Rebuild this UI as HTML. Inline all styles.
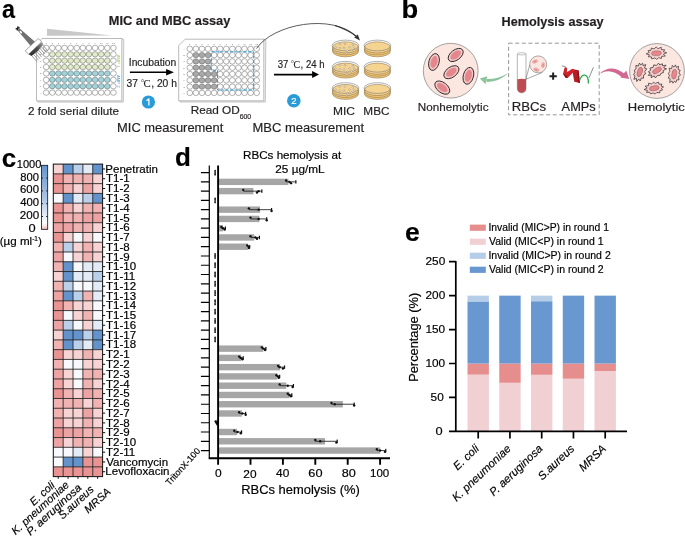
<!DOCTYPE html>
<html><head><meta charset="utf-8"><title>Figure</title>
<style>
html,body{margin:0;padding:0;background:#fff;}
body{width:685px;height:540px;overflow:hidden;}
svg{display:block;font-family:"Liberation Sans",sans-serif;will-change:transform;}
</style></head><body>
<svg width="685" height="540" viewBox="0 0 685 540">
<text x="1.90" y="18.10" font-size="26.5" font-weight="bold" textLength="12.99" lengthAdjust="spacingAndGlyphs"  stroke="#000" stroke-width="0.18">a</text>
<text x="401.52" y="18.40" font-size="26.5" font-weight="bold" textLength="16.69" lengthAdjust="spacingAndGlyphs"  stroke="#000" stroke-width="0.18">b</text>
<text x="1.66" y="167.00" font-size="26.5" font-weight="bold" textLength="14.45" lengthAdjust="spacingAndGlyphs"  stroke="#000" stroke-width="0.18">c</text>
<text x="174.96" y="166.10" font-size="26.5" font-weight="bold" textLength="15.85" lengthAdjust="spacingAndGlyphs"  stroke="#000" stroke-width="0.18">d</text>
<text x="405.03" y="240.90" font-size="26.5" font-weight="bold"  stroke="#000" stroke-width="0.18">e</text>
<text x="108.76" y="25.40" font-size="12.8" font-weight="bold" fill="#231f20"  stroke="#231f20" stroke-width="0.18">MIC and MBC assay</text>
<polygon points="47,28.8 47,35.8 112,35.6" fill="#c8c8c8"/>
<path d="M37.5,100.9 L38.0,102.10000000000001 L123.3,102.10000000000001 L123.8,39.5 L121.8,38.5" fill="#f6f6f6" stroke="#8a8a8a" stroke-width="0.5"/>
<polygon points="42.0,38.5 121.8,38.5 121.8,100.9 36.5,100.9 36.5,44.0" fill="#fff" stroke="#8c8c8c" stroke-width="0.6"/>
<ellipse cx="46.20" cy="47.90" rx="2.85" ry="2.7" fill="#fff"/><ellipse cx="52.31" cy="47.90" rx="2.85" ry="2.7" fill="#fff"/><ellipse cx="58.42" cy="47.90" rx="2.85" ry="2.7" fill="#fff"/><ellipse cx="64.53" cy="47.90" rx="2.85" ry="2.7" fill="#fff"/><ellipse cx="70.64" cy="47.90" rx="2.85" ry="2.7" fill="#fff"/><ellipse cx="76.75" cy="47.90" rx="2.85" ry="2.7" fill="#fff"/><ellipse cx="82.86" cy="47.90" rx="2.85" ry="2.7" fill="#fff"/><ellipse cx="88.97" cy="47.90" rx="2.85" ry="2.7" fill="#fff"/><ellipse cx="95.08" cy="47.90" rx="2.85" ry="2.7" fill="#fff"/><ellipse cx="101.19" cy="47.90" rx="2.85" ry="2.7" fill="#fff"/><ellipse cx="107.30" cy="47.90" rx="2.85" ry="2.7" fill="#fff"/><ellipse cx="113.41" cy="47.90" rx="2.85" ry="2.7" fill="#fff"/><ellipse cx="46.20" cy="54.29" rx="2.85" ry="2.7" fill="#fff"/><ellipse cx="52.31" cy="54.29" rx="2.85" ry="2.7" fill="#e1ebc9"/><ellipse cx="58.42" cy="54.29" rx="2.85" ry="2.7" fill="#e1ebc9"/><ellipse cx="64.53" cy="54.29" rx="2.85" ry="2.7" fill="#e1ebc9"/><ellipse cx="70.64" cy="54.29" rx="2.85" ry="2.7" fill="#e1ebc9"/><ellipse cx="76.75" cy="54.29" rx="2.85" ry="2.7" fill="#e1ebc9"/><ellipse cx="82.86" cy="54.29" rx="2.85" ry="2.7" fill="#e1ebc9"/><ellipse cx="88.97" cy="54.29" rx="2.85" ry="2.7" fill="#e1ebc9"/><ellipse cx="95.08" cy="54.29" rx="2.85" ry="2.7" fill="#e1ebc9"/><ellipse cx="101.19" cy="54.29" rx="2.85" ry="2.7" fill="#e1ebc9"/><ellipse cx="107.30" cy="54.29" rx="2.85" ry="2.7" fill="#e1ebc9"/><ellipse cx="113.41" cy="54.29" rx="2.85" ry="2.7" fill="#fff"/><ellipse cx="46.20" cy="60.68" rx="2.85" ry="2.7" fill="#fff"/><ellipse cx="52.31" cy="60.68" rx="2.85" ry="2.7" fill="#e1ebc9"/><ellipse cx="58.42" cy="60.68" rx="2.85" ry="2.7" fill="#e1ebc9"/><ellipse cx="64.53" cy="60.68" rx="2.85" ry="2.7" fill="#e1ebc9"/><ellipse cx="70.64" cy="60.68" rx="2.85" ry="2.7" fill="#e1ebc9"/><ellipse cx="76.75" cy="60.68" rx="2.85" ry="2.7" fill="#e1ebc9"/><ellipse cx="82.86" cy="60.68" rx="2.85" ry="2.7" fill="#e1ebc9"/><ellipse cx="88.97" cy="60.68" rx="2.85" ry="2.7" fill="#e1ebc9"/><ellipse cx="95.08" cy="60.68" rx="2.85" ry="2.7" fill="#e1ebc9"/><ellipse cx="101.19" cy="60.68" rx="2.85" ry="2.7" fill="#e1ebc9"/><ellipse cx="107.30" cy="60.68" rx="2.85" ry="2.7" fill="#e1ebc9"/><ellipse cx="113.41" cy="60.68" rx="2.85" ry="2.7" fill="#fff"/><ellipse cx="46.20" cy="67.07" rx="2.85" ry="2.7" fill="#fff"/><ellipse cx="52.31" cy="67.07" rx="2.85" ry="2.7" fill="#e1ebc9"/><ellipse cx="58.42" cy="67.07" rx="2.85" ry="2.7" fill="#e1ebc9"/><ellipse cx="64.53" cy="67.07" rx="2.85" ry="2.7" fill="#e1ebc9"/><ellipse cx="70.64" cy="67.07" rx="2.85" ry="2.7" fill="#e1ebc9"/><ellipse cx="76.75" cy="67.07" rx="2.85" ry="2.7" fill="#e1ebc9"/><ellipse cx="82.86" cy="67.07" rx="2.85" ry="2.7" fill="#e1ebc9"/><ellipse cx="88.97" cy="67.07" rx="2.85" ry="2.7" fill="#e1ebc9"/><ellipse cx="95.08" cy="67.07" rx="2.85" ry="2.7" fill="#e1ebc9"/><ellipse cx="101.19" cy="67.07" rx="2.85" ry="2.7" fill="#e1ebc9"/><ellipse cx="107.30" cy="67.07" rx="2.85" ry="2.7" fill="#e1ebc9"/><ellipse cx="113.41" cy="67.07" rx="2.85" ry="2.7" fill="#fff"/><ellipse cx="46.20" cy="73.46" rx="2.85" ry="2.7" fill="#fff"/><ellipse cx="52.31" cy="73.46" rx="2.85" ry="2.7" fill="#a3d3da"/><ellipse cx="58.42" cy="73.46" rx="2.85" ry="2.7" fill="#a3d3da"/><ellipse cx="64.53" cy="73.46" rx="2.85" ry="2.7" fill="#a3d3da"/><ellipse cx="70.64" cy="73.46" rx="2.85" ry="2.7" fill="#a3d3da"/><ellipse cx="76.75" cy="73.46" rx="2.85" ry="2.7" fill="#a3d3da"/><ellipse cx="82.86" cy="73.46" rx="2.85" ry="2.7" fill="#a3d3da"/><ellipse cx="88.97" cy="73.46" rx="2.85" ry="2.7" fill="#a3d3da"/><ellipse cx="95.08" cy="73.46" rx="2.85" ry="2.7" fill="#a3d3da"/><ellipse cx="101.19" cy="73.46" rx="2.85" ry="2.7" fill="#a3d3da"/><ellipse cx="107.30" cy="73.46" rx="2.85" ry="2.7" fill="#a3d3da"/><ellipse cx="113.41" cy="73.46" rx="2.85" ry="2.7" fill="#fff"/><ellipse cx="46.20" cy="79.85" rx="2.85" ry="2.7" fill="#fff"/><ellipse cx="52.31" cy="79.85" rx="2.85" ry="2.7" fill="#a3d3da"/><ellipse cx="58.42" cy="79.85" rx="2.85" ry="2.7" fill="#a3d3da"/><ellipse cx="64.53" cy="79.85" rx="2.85" ry="2.7" fill="#a3d3da"/><ellipse cx="70.64" cy="79.85" rx="2.85" ry="2.7" fill="#a3d3da"/><ellipse cx="76.75" cy="79.85" rx="2.85" ry="2.7" fill="#a3d3da"/><ellipse cx="82.86" cy="79.85" rx="2.85" ry="2.7" fill="#a3d3da"/><ellipse cx="88.97" cy="79.85" rx="2.85" ry="2.7" fill="#a3d3da"/><ellipse cx="95.08" cy="79.85" rx="2.85" ry="2.7" fill="#a3d3da"/><ellipse cx="101.19" cy="79.85" rx="2.85" ry="2.7" fill="#a3d3da"/><ellipse cx="107.30" cy="79.85" rx="2.85" ry="2.7" fill="#a3d3da"/><ellipse cx="113.41" cy="79.85" rx="2.85" ry="2.7" fill="#fff"/><ellipse cx="46.20" cy="86.24" rx="2.85" ry="2.7" fill="#fff"/><ellipse cx="52.31" cy="86.24" rx="2.85" ry="2.7" fill="#a3d3da"/><ellipse cx="58.42" cy="86.24" rx="2.85" ry="2.7" fill="#a3d3da"/><ellipse cx="64.53" cy="86.24" rx="2.85" ry="2.7" fill="#a3d3da"/><ellipse cx="70.64" cy="86.24" rx="2.85" ry="2.7" fill="#a3d3da"/><ellipse cx="76.75" cy="86.24" rx="2.85" ry="2.7" fill="#a3d3da"/><ellipse cx="82.86" cy="86.24" rx="2.85" ry="2.7" fill="#a3d3da"/><ellipse cx="88.97" cy="86.24" rx="2.85" ry="2.7" fill="#a3d3da"/><ellipse cx="95.08" cy="86.24" rx="2.85" ry="2.7" fill="#a3d3da"/><ellipse cx="101.19" cy="86.24" rx="2.85" ry="2.7" fill="#a3d3da"/><ellipse cx="107.30" cy="86.24" rx="2.85" ry="2.7" fill="#a3d3da"/><ellipse cx="113.41" cy="86.24" rx="2.85" ry="2.7" fill="#fff"/><ellipse cx="46.20" cy="92.63" rx="2.85" ry="2.7" fill="#fff"/><ellipse cx="52.31" cy="92.63" rx="2.85" ry="2.7" fill="#fff"/><ellipse cx="58.42" cy="92.63" rx="2.85" ry="2.7" fill="#fff"/><ellipse cx="64.53" cy="92.63" rx="2.85" ry="2.7" fill="#fff"/><ellipse cx="70.64" cy="92.63" rx="2.85" ry="2.7" fill="#fff"/><ellipse cx="76.75" cy="92.63" rx="2.85" ry="2.7" fill="#fff"/><ellipse cx="82.86" cy="92.63" rx="2.85" ry="2.7" fill="#fff"/><ellipse cx="88.97" cy="92.63" rx="2.85" ry="2.7" fill="#fff"/><ellipse cx="95.08" cy="92.63" rx="2.85" ry="2.7" fill="#fff"/><ellipse cx="101.19" cy="92.63" rx="2.85" ry="2.7" fill="#fff"/><ellipse cx="107.30" cy="92.63" rx="2.85" ry="2.7" fill="#fff"/><ellipse cx="113.41" cy="92.63" rx="2.85" ry="2.7" fill="#fff"/>
<g fill="none" stroke="#555" stroke-width="0.45"><ellipse cx="46.20" cy="47.90" rx="2.85" ry="2.7"/><ellipse cx="52.31" cy="47.90" rx="2.85" ry="2.7"/><ellipse cx="58.42" cy="47.90" rx="2.85" ry="2.7"/><ellipse cx="64.53" cy="47.90" rx="2.85" ry="2.7"/><ellipse cx="70.64" cy="47.90" rx="2.85" ry="2.7"/><ellipse cx="76.75" cy="47.90" rx="2.85" ry="2.7"/><ellipse cx="82.86" cy="47.90" rx="2.85" ry="2.7"/><ellipse cx="88.97" cy="47.90" rx="2.85" ry="2.7"/><ellipse cx="95.08" cy="47.90" rx="2.85" ry="2.7"/><ellipse cx="101.19" cy="47.90" rx="2.85" ry="2.7"/><ellipse cx="107.30" cy="47.90" rx="2.85" ry="2.7"/><ellipse cx="113.41" cy="47.90" rx="2.85" ry="2.7"/><ellipse cx="46.20" cy="54.29" rx="2.85" ry="2.7"/><ellipse cx="52.31" cy="54.29" rx="2.85" ry="2.7"/><ellipse cx="58.42" cy="54.29" rx="2.85" ry="2.7"/><ellipse cx="64.53" cy="54.29" rx="2.85" ry="2.7"/><ellipse cx="70.64" cy="54.29" rx="2.85" ry="2.7"/><ellipse cx="76.75" cy="54.29" rx="2.85" ry="2.7"/><ellipse cx="82.86" cy="54.29" rx="2.85" ry="2.7"/><ellipse cx="88.97" cy="54.29" rx="2.85" ry="2.7"/><ellipse cx="95.08" cy="54.29" rx="2.85" ry="2.7"/><ellipse cx="101.19" cy="54.29" rx="2.85" ry="2.7"/><ellipse cx="107.30" cy="54.29" rx="2.85" ry="2.7"/><ellipse cx="113.41" cy="54.29" rx="2.85" ry="2.7"/><ellipse cx="46.20" cy="60.68" rx="2.85" ry="2.7"/><ellipse cx="52.31" cy="60.68" rx="2.85" ry="2.7"/><ellipse cx="58.42" cy="60.68" rx="2.85" ry="2.7"/><ellipse cx="64.53" cy="60.68" rx="2.85" ry="2.7"/><ellipse cx="70.64" cy="60.68" rx="2.85" ry="2.7"/><ellipse cx="76.75" cy="60.68" rx="2.85" ry="2.7"/><ellipse cx="82.86" cy="60.68" rx="2.85" ry="2.7"/><ellipse cx="88.97" cy="60.68" rx="2.85" ry="2.7"/><ellipse cx="95.08" cy="60.68" rx="2.85" ry="2.7"/><ellipse cx="101.19" cy="60.68" rx="2.85" ry="2.7"/><ellipse cx="107.30" cy="60.68" rx="2.85" ry="2.7"/><ellipse cx="113.41" cy="60.68" rx="2.85" ry="2.7"/><ellipse cx="46.20" cy="67.07" rx="2.85" ry="2.7"/><ellipse cx="52.31" cy="67.07" rx="2.85" ry="2.7"/><ellipse cx="58.42" cy="67.07" rx="2.85" ry="2.7"/><ellipse cx="64.53" cy="67.07" rx="2.85" ry="2.7"/><ellipse cx="70.64" cy="67.07" rx="2.85" ry="2.7"/><ellipse cx="76.75" cy="67.07" rx="2.85" ry="2.7"/><ellipse cx="82.86" cy="67.07" rx="2.85" ry="2.7"/><ellipse cx="88.97" cy="67.07" rx="2.85" ry="2.7"/><ellipse cx="95.08" cy="67.07" rx="2.85" ry="2.7"/><ellipse cx="101.19" cy="67.07" rx="2.85" ry="2.7"/><ellipse cx="107.30" cy="67.07" rx="2.85" ry="2.7"/><ellipse cx="113.41" cy="67.07" rx="2.85" ry="2.7"/><ellipse cx="46.20" cy="73.46" rx="2.85" ry="2.7"/><ellipse cx="52.31" cy="73.46" rx="2.85" ry="2.7"/><ellipse cx="58.42" cy="73.46" rx="2.85" ry="2.7"/><ellipse cx="64.53" cy="73.46" rx="2.85" ry="2.7"/><ellipse cx="70.64" cy="73.46" rx="2.85" ry="2.7"/><ellipse cx="76.75" cy="73.46" rx="2.85" ry="2.7"/><ellipse cx="82.86" cy="73.46" rx="2.85" ry="2.7"/><ellipse cx="88.97" cy="73.46" rx="2.85" ry="2.7"/><ellipse cx="95.08" cy="73.46" rx="2.85" ry="2.7"/><ellipse cx="101.19" cy="73.46" rx="2.85" ry="2.7"/><ellipse cx="107.30" cy="73.46" rx="2.85" ry="2.7"/><ellipse cx="113.41" cy="73.46" rx="2.85" ry="2.7"/><ellipse cx="46.20" cy="79.85" rx="2.85" ry="2.7"/><ellipse cx="52.31" cy="79.85" rx="2.85" ry="2.7"/><ellipse cx="58.42" cy="79.85" rx="2.85" ry="2.7"/><ellipse cx="64.53" cy="79.85" rx="2.85" ry="2.7"/><ellipse cx="70.64" cy="79.85" rx="2.85" ry="2.7"/><ellipse cx="76.75" cy="79.85" rx="2.85" ry="2.7"/><ellipse cx="82.86" cy="79.85" rx="2.85" ry="2.7"/><ellipse cx="88.97" cy="79.85" rx="2.85" ry="2.7"/><ellipse cx="95.08" cy="79.85" rx="2.85" ry="2.7"/><ellipse cx="101.19" cy="79.85" rx="2.85" ry="2.7"/><ellipse cx="107.30" cy="79.85" rx="2.85" ry="2.7"/><ellipse cx="113.41" cy="79.85" rx="2.85" ry="2.7"/><ellipse cx="46.20" cy="86.24" rx="2.85" ry="2.7"/><ellipse cx="52.31" cy="86.24" rx="2.85" ry="2.7"/><ellipse cx="58.42" cy="86.24" rx="2.85" ry="2.7"/><ellipse cx="64.53" cy="86.24" rx="2.85" ry="2.7"/><ellipse cx="70.64" cy="86.24" rx="2.85" ry="2.7"/><ellipse cx="76.75" cy="86.24" rx="2.85" ry="2.7"/><ellipse cx="82.86" cy="86.24" rx="2.85" ry="2.7"/><ellipse cx="88.97" cy="86.24" rx="2.85" ry="2.7"/><ellipse cx="95.08" cy="86.24" rx="2.85" ry="2.7"/><ellipse cx="101.19" cy="86.24" rx="2.85" ry="2.7"/><ellipse cx="107.30" cy="86.24" rx="2.85" ry="2.7"/><ellipse cx="113.41" cy="86.24" rx="2.85" ry="2.7"/><ellipse cx="46.20" cy="92.63" rx="2.85" ry="2.7"/><ellipse cx="52.31" cy="92.63" rx="2.85" ry="2.7"/><ellipse cx="58.42" cy="92.63" rx="2.85" ry="2.7"/><ellipse cx="64.53" cy="92.63" rx="2.85" ry="2.7"/><ellipse cx="70.64" cy="92.63" rx="2.85" ry="2.7"/><ellipse cx="76.75" cy="92.63" rx="2.85" ry="2.7"/><ellipse cx="82.86" cy="92.63" rx="2.85" ry="2.7"/><ellipse cx="88.97" cy="92.63" rx="2.85" ry="2.7"/><ellipse cx="95.08" cy="92.63" rx="2.85" ry="2.7"/><ellipse cx="101.19" cy="92.63" rx="2.85" ry="2.7"/><ellipse cx="107.30" cy="92.63" rx="2.85" ry="2.7"/><ellipse cx="113.41" cy="92.63" rx="2.85" ry="2.7"/></g>
<g font-size="2.5" fill="#808080" text-anchor="middle"><text x="46.20" y="43.60" stroke="none">1</text><text x="52.31" y="43.60" stroke="none">2</text><text x="58.42" y="43.60" stroke="none">3</text><text x="64.53" y="43.60" stroke="none">4</text><text x="70.64" y="43.60" stroke="none">5</text><text x="76.75" y="43.60" stroke="none">6</text><text x="82.86" y="43.60" stroke="none">7</text><text x="88.97" y="43.60" stroke="none">8</text><text x="95.08" y="43.60" stroke="none">9</text><text x="101.19" y="43.60" stroke="none">10</text><text x="107.30" y="43.60" stroke="none">11</text><text x="113.41" y="43.60" stroke="none">12</text><text x="40.60" y="48.80" stroke="none">A</text><text x="40.60" y="55.19" stroke="none">B</text><text x="40.60" y="61.58" stroke="none">C</text><text x="40.60" y="67.97" stroke="none">D</text><text x="40.60" y="74.36" stroke="none">E</text><text x="40.60" y="80.75" stroke="none">F</text><text x="40.60" y="87.14" stroke="none">G</text><text x="40.60" y="93.53" stroke="none">H</text></g>
<text x="117.40" y="54.70" font-size="4.3" fill="#a2c95e" transform="rotate(90 117.4 54.7)" >AMP 1</text>
<text x="117.40" y="74.90" font-size="4.3" fill="#3aa7e0" transform="rotate(90 117.4 74.9)" >AMP 2</text>
<defs><linearGradient id="pg" x1="0" y1="0" x2="1" y2="0"><stop offset="0" stop-color="#2a2a2a"/><stop offset="0.55" stop-color="#4a4a4a"/><stop offset="1" stop-color="#9a9a9a"/></linearGradient></defs>
<g transform="translate(17.6,28.3) rotate(-45)"><path d="M-1.9,-0.9 L1.9,0.9 M-1.7,1.1 L1.7,-1.1" stroke="#111" stroke-width="1.3"/><path d="M-1.4,1.2 L1.4,1.2 L2.8,21.8 L-3.2,21.8 Z" fill="#707070"/><ellipse cx="-0.4" cy="5.0" rx="0.9" ry="1.5" fill="#fff"/><path d="M-9.30,29.5 L-10.00,37.4" stroke="#8c8c8c" stroke-width="0.8"/><path d="M-7.10,29.5 L-7.80,37.4" stroke="#8c8c8c" stroke-width="0.8"/><path d="M-4.90,29.5 L-5.60,37.4" stroke="#8c8c8c" stroke-width="0.8"/><path d="M-2.70,29.5 L-3.40,37.4" stroke="#8c8c8c" stroke-width="0.8"/><path d="M-0.50,29.5 L-1.20,37.4" stroke="#8c8c8c" stroke-width="0.8"/><path d="M1.70,29.5 L1.00,37.4" stroke="#8c8c8c" stroke-width="0.8"/><path d="M3.90,29.5 L3.20,37.4" stroke="#8c8c8c" stroke-width="0.8"/><path d="M6.10,29.5 L5.40,37.4" stroke="#8c8c8c" stroke-width="0.8"/><path d="M-10.6,21.3 L7.3,21.8 L7.5,26.6 L-10.6,26.1 Z" fill="#fff" stroke="#555" stroke-width="0.5" stroke-linejoin="round"/><path d="M-10.4,26.2 L7.4,26.6 L7.0,29.6 Q-1.5,31.2 -9.8,29.4 Z" fill="url(#pg)"/></g>
<path d="M129.9,72.3 H167" stroke="#000" stroke-width="1.6"/>
<path d="M173.9,72.3 L166.1,69 L166.1,75.6 Z" fill="#000"/>
<text x="128.77" y="66.40" font-size="10.3" fill="#231f20"  stroke="#231f20" stroke-width="0.18">Incubation</text>
<g transform="translate(126.49,86.5) scale(1.0120,1)" fill="#231f20" font-size="10.2"><text x="0" y="0" stroke="#231f20" stroke-width="0.18">37 </text><text x="14.48" y="-4.6" font-size="4.5" stroke="none">o</text><text x="16.78" y="0" font-family="Liberation Serif" font-size="10.6" stroke="#231f20" stroke-width="0.1">C</text><text x="24.38" y="0" stroke="#231f20" stroke-width="0.18">, 20 h</text></g>
<path d="M179.7,100.8 L180.2,102.0 L265.3,102.0 L265.8,40.2 L263.8,39.2" fill="#f6f6f6" stroke="#8a8a8a" stroke-width="0.5"/>
<polygon points="185.2,39.2 263.8,39.2 263.8,100.8 178.7,100.8 178.7,45.7" fill="#fff" stroke="#8c8c8c" stroke-width="0.6"/>
<ellipse cx="189.80" cy="48.80" rx="2.85" ry="2.7" fill="#fff"/><ellipse cx="195.88" cy="48.80" rx="2.85" ry="2.7" fill="#fff"/><ellipse cx="201.96" cy="48.80" rx="2.85" ry="2.7" fill="#fff"/><ellipse cx="208.04" cy="48.80" rx="2.85" ry="2.7" fill="#fff"/><ellipse cx="214.12" cy="48.80" rx="2.85" ry="2.7" fill="#fff"/><ellipse cx="220.20" cy="48.80" rx="2.85" ry="2.7" fill="#fff"/><ellipse cx="226.28" cy="48.80" rx="2.85" ry="2.7" fill="#fff"/><ellipse cx="232.36" cy="48.80" rx="2.85" ry="2.7" fill="#fff"/><ellipse cx="238.44" cy="48.80" rx="2.85" ry="2.7" fill="#fff"/><ellipse cx="244.52" cy="48.80" rx="2.85" ry="2.7" fill="#fff"/><ellipse cx="250.60" cy="48.80" rx="2.85" ry="2.7" fill="#fff"/><ellipse cx="256.68" cy="48.80" rx="2.85" ry="2.7" fill="#fff"/><ellipse cx="189.80" cy="55.10" rx="2.85" ry="2.7" fill="#fff"/><ellipse cx="195.88" cy="55.10" rx="2.85" ry="2.7" fill="#a9a9a9"/><ellipse cx="201.96" cy="55.10" rx="2.85" ry="2.7" fill="#a9a9a9"/><ellipse cx="208.04" cy="55.10" rx="2.85" ry="2.7" fill="#a9a9a9"/><ellipse cx="214.12" cy="55.10" rx="2.85" ry="2.7" fill="#fff"/><ellipse cx="220.20" cy="55.10" rx="2.85" ry="2.7" fill="#fff"/><ellipse cx="226.28" cy="55.10" rx="2.85" ry="2.7" fill="#fff"/><ellipse cx="232.36" cy="55.10" rx="2.85" ry="2.7" fill="#fff"/><ellipse cx="238.44" cy="55.10" rx="2.85" ry="2.7" fill="#fff"/><ellipse cx="244.52" cy="55.10" rx="2.85" ry="2.7" fill="#fff"/><ellipse cx="250.60" cy="55.10" rx="2.85" ry="2.7" fill="#fff"/><ellipse cx="256.68" cy="55.10" rx="2.85" ry="2.7" fill="#fff"/><ellipse cx="189.80" cy="61.40" rx="2.85" ry="2.7" fill="#fff"/><ellipse cx="195.88" cy="61.40" rx="2.85" ry="2.7" fill="#a9a9a9"/><ellipse cx="201.96" cy="61.40" rx="2.85" ry="2.7" fill="#a9a9a9"/><ellipse cx="208.04" cy="61.40" rx="2.85" ry="2.7" fill="#a9a9a9"/><ellipse cx="214.12" cy="61.40" rx="2.85" ry="2.7" fill="#fff"/><ellipse cx="220.20" cy="61.40" rx="2.85" ry="2.7" fill="#fff"/><ellipse cx="226.28" cy="61.40" rx="2.85" ry="2.7" fill="#fff"/><ellipse cx="232.36" cy="61.40" rx="2.85" ry="2.7" fill="#fff"/><ellipse cx="238.44" cy="61.40" rx="2.85" ry="2.7" fill="#fff"/><ellipse cx="244.52" cy="61.40" rx="2.85" ry="2.7" fill="#fff"/><ellipse cx="250.60" cy="61.40" rx="2.85" ry="2.7" fill="#fff"/><ellipse cx="256.68" cy="61.40" rx="2.85" ry="2.7" fill="#fff"/><ellipse cx="189.80" cy="67.70" rx="2.85" ry="2.7" fill="#fff"/><ellipse cx="195.88" cy="67.70" rx="2.85" ry="2.7" fill="#a9a9a9"/><ellipse cx="201.96" cy="67.70" rx="2.85" ry="2.7" fill="#a9a9a9"/><ellipse cx="208.04" cy="67.70" rx="2.85" ry="2.7" fill="#a9a9a9"/><ellipse cx="214.12" cy="67.70" rx="2.85" ry="2.7" fill="#fff"/><ellipse cx="220.20" cy="67.70" rx="2.85" ry="2.7" fill="#fff"/><ellipse cx="226.28" cy="67.70" rx="2.85" ry="2.7" fill="#fff"/><ellipse cx="232.36" cy="67.70" rx="2.85" ry="2.7" fill="#fff"/><ellipse cx="238.44" cy="67.70" rx="2.85" ry="2.7" fill="#fff"/><ellipse cx="244.52" cy="67.70" rx="2.85" ry="2.7" fill="#fff"/><ellipse cx="250.60" cy="67.70" rx="2.85" ry="2.7" fill="#fff"/><ellipse cx="256.68" cy="67.70" rx="2.85" ry="2.7" fill="#fff"/><ellipse cx="189.80" cy="74.00" rx="2.85" ry="2.7" fill="#fff"/><ellipse cx="195.88" cy="74.00" rx="2.85" ry="2.7" fill="#a9a9a9"/><ellipse cx="201.96" cy="74.00" rx="2.85" ry="2.7" fill="#a9a9a9"/><ellipse cx="208.04" cy="74.00" rx="2.85" ry="2.7" fill="#a9a9a9"/><ellipse cx="214.12" cy="74.00" rx="2.85" ry="2.7" fill="#a9a9a9"/><ellipse cx="220.20" cy="74.00" rx="2.85" ry="2.7" fill="#fff"/><ellipse cx="226.28" cy="74.00" rx="2.85" ry="2.7" fill="#fff"/><ellipse cx="232.36" cy="74.00" rx="2.85" ry="2.7" fill="#fff"/><ellipse cx="238.44" cy="74.00" rx="2.85" ry="2.7" fill="#fff"/><ellipse cx="244.52" cy="74.00" rx="2.85" ry="2.7" fill="#fff"/><ellipse cx="250.60" cy="74.00" rx="2.85" ry="2.7" fill="#fff"/><ellipse cx="256.68" cy="74.00" rx="2.85" ry="2.7" fill="#fff"/><ellipse cx="189.80" cy="80.30" rx="2.85" ry="2.7" fill="#fff"/><ellipse cx="195.88" cy="80.30" rx="2.85" ry="2.7" fill="#a9a9a9"/><ellipse cx="201.96" cy="80.30" rx="2.85" ry="2.7" fill="#a9a9a9"/><ellipse cx="208.04" cy="80.30" rx="2.85" ry="2.7" fill="#a9a9a9"/><ellipse cx="214.12" cy="80.30" rx="2.85" ry="2.7" fill="#a9a9a9"/><ellipse cx="220.20" cy="80.30" rx="2.85" ry="2.7" fill="#fff"/><ellipse cx="226.28" cy="80.30" rx="2.85" ry="2.7" fill="#fff"/><ellipse cx="232.36" cy="80.30" rx="2.85" ry="2.7" fill="#fff"/><ellipse cx="238.44" cy="80.30" rx="2.85" ry="2.7" fill="#fff"/><ellipse cx="244.52" cy="80.30" rx="2.85" ry="2.7" fill="#fff"/><ellipse cx="250.60" cy="80.30" rx="2.85" ry="2.7" fill="#fff"/><ellipse cx="256.68" cy="80.30" rx="2.85" ry="2.7" fill="#fff"/><ellipse cx="189.80" cy="86.60" rx="2.85" ry="2.7" fill="#fff"/><ellipse cx="195.88" cy="86.60" rx="2.85" ry="2.7" fill="#a9a9a9"/><ellipse cx="201.96" cy="86.60" rx="2.85" ry="2.7" fill="#a9a9a9"/><ellipse cx="208.04" cy="86.60" rx="2.85" ry="2.7" fill="#a9a9a9"/><ellipse cx="214.12" cy="86.60" rx="2.85" ry="2.7" fill="#a9a9a9"/><ellipse cx="220.20" cy="86.60" rx="2.85" ry="2.7" fill="#fff"/><ellipse cx="226.28" cy="86.60" rx="2.85" ry="2.7" fill="#fff"/><ellipse cx="232.36" cy="86.60" rx="2.85" ry="2.7" fill="#fff"/><ellipse cx="238.44" cy="86.60" rx="2.85" ry="2.7" fill="#fff"/><ellipse cx="244.52" cy="86.60" rx="2.85" ry="2.7" fill="#fff"/><ellipse cx="250.60" cy="86.60" rx="2.85" ry="2.7" fill="#fff"/><ellipse cx="256.68" cy="86.60" rx="2.85" ry="2.7" fill="#fff"/><ellipse cx="189.80" cy="92.90" rx="2.85" ry="2.7" fill="#fff"/><ellipse cx="195.88" cy="92.90" rx="2.85" ry="2.7" fill="#fff"/><ellipse cx="201.96" cy="92.90" rx="2.85" ry="2.7" fill="#fff"/><ellipse cx="208.04" cy="92.90" rx="2.85" ry="2.7" fill="#fff"/><ellipse cx="214.12" cy="92.90" rx="2.85" ry="2.7" fill="#fff"/><ellipse cx="220.20" cy="92.90" rx="2.85" ry="2.7" fill="#fff"/><ellipse cx="226.28" cy="92.90" rx="2.85" ry="2.7" fill="#fff"/><ellipse cx="232.36" cy="92.90" rx="2.85" ry="2.7" fill="#fff"/><ellipse cx="238.44" cy="92.90" rx="2.85" ry="2.7" fill="#fff"/><ellipse cx="244.52" cy="92.90" rx="2.85" ry="2.7" fill="#fff"/><ellipse cx="250.60" cy="92.90" rx="2.85" ry="2.7" fill="#fff"/><ellipse cx="256.68" cy="92.90" rx="2.85" ry="2.7" fill="#fff"/>
<g fill="none" stroke="#555" stroke-width="0.45"><ellipse cx="189.80" cy="48.80" rx="2.85" ry="2.7"/><ellipse cx="195.88" cy="48.80" rx="2.85" ry="2.7"/><ellipse cx="201.96" cy="48.80" rx="2.85" ry="2.7"/><ellipse cx="208.04" cy="48.80" rx="2.85" ry="2.7"/><ellipse cx="214.12" cy="48.80" rx="2.85" ry="2.7"/><ellipse cx="220.20" cy="48.80" rx="2.85" ry="2.7"/><ellipse cx="226.28" cy="48.80" rx="2.85" ry="2.7"/><ellipse cx="232.36" cy="48.80" rx="2.85" ry="2.7"/><ellipse cx="238.44" cy="48.80" rx="2.85" ry="2.7"/><ellipse cx="244.52" cy="48.80" rx="2.85" ry="2.7"/><ellipse cx="250.60" cy="48.80" rx="2.85" ry="2.7"/><ellipse cx="256.68" cy="48.80" rx="2.85" ry="2.7"/><ellipse cx="189.80" cy="55.10" rx="2.85" ry="2.7"/><ellipse cx="195.88" cy="55.10" rx="2.85" ry="2.7"/><ellipse cx="201.96" cy="55.10" rx="2.85" ry="2.7"/><ellipse cx="208.04" cy="55.10" rx="2.85" ry="2.7"/><ellipse cx="214.12" cy="55.10" rx="2.85" ry="2.7"/><ellipse cx="220.20" cy="55.10" rx="2.85" ry="2.7"/><ellipse cx="226.28" cy="55.10" rx="2.85" ry="2.7"/><ellipse cx="232.36" cy="55.10" rx="2.85" ry="2.7"/><ellipse cx="238.44" cy="55.10" rx="2.85" ry="2.7"/><ellipse cx="244.52" cy="55.10" rx="2.85" ry="2.7"/><ellipse cx="250.60" cy="55.10" rx="2.85" ry="2.7"/><ellipse cx="256.68" cy="55.10" rx="2.85" ry="2.7"/><ellipse cx="189.80" cy="61.40" rx="2.85" ry="2.7"/><ellipse cx="195.88" cy="61.40" rx="2.85" ry="2.7"/><ellipse cx="201.96" cy="61.40" rx="2.85" ry="2.7"/><ellipse cx="208.04" cy="61.40" rx="2.85" ry="2.7"/><ellipse cx="214.12" cy="61.40" rx="2.85" ry="2.7"/><ellipse cx="220.20" cy="61.40" rx="2.85" ry="2.7"/><ellipse cx="226.28" cy="61.40" rx="2.85" ry="2.7"/><ellipse cx="232.36" cy="61.40" rx="2.85" ry="2.7"/><ellipse cx="238.44" cy="61.40" rx="2.85" ry="2.7"/><ellipse cx="244.52" cy="61.40" rx="2.85" ry="2.7"/><ellipse cx="250.60" cy="61.40" rx="2.85" ry="2.7"/><ellipse cx="256.68" cy="61.40" rx="2.85" ry="2.7"/><ellipse cx="189.80" cy="67.70" rx="2.85" ry="2.7"/><ellipse cx="195.88" cy="67.70" rx="2.85" ry="2.7"/><ellipse cx="201.96" cy="67.70" rx="2.85" ry="2.7"/><ellipse cx="208.04" cy="67.70" rx="2.85" ry="2.7"/><ellipse cx="214.12" cy="67.70" rx="2.85" ry="2.7"/><ellipse cx="220.20" cy="67.70" rx="2.85" ry="2.7"/><ellipse cx="226.28" cy="67.70" rx="2.85" ry="2.7"/><ellipse cx="232.36" cy="67.70" rx="2.85" ry="2.7"/><ellipse cx="238.44" cy="67.70" rx="2.85" ry="2.7"/><ellipse cx="244.52" cy="67.70" rx="2.85" ry="2.7"/><ellipse cx="250.60" cy="67.70" rx="2.85" ry="2.7"/><ellipse cx="256.68" cy="67.70" rx="2.85" ry="2.7"/><ellipse cx="189.80" cy="74.00" rx="2.85" ry="2.7"/><ellipse cx="195.88" cy="74.00" rx="2.85" ry="2.7"/><ellipse cx="201.96" cy="74.00" rx="2.85" ry="2.7"/><ellipse cx="208.04" cy="74.00" rx="2.85" ry="2.7"/><ellipse cx="214.12" cy="74.00" rx="2.85" ry="2.7"/><ellipse cx="220.20" cy="74.00" rx="2.85" ry="2.7"/><ellipse cx="226.28" cy="74.00" rx="2.85" ry="2.7"/><ellipse cx="232.36" cy="74.00" rx="2.85" ry="2.7"/><ellipse cx="238.44" cy="74.00" rx="2.85" ry="2.7"/><ellipse cx="244.52" cy="74.00" rx="2.85" ry="2.7"/><ellipse cx="250.60" cy="74.00" rx="2.85" ry="2.7"/><ellipse cx="256.68" cy="74.00" rx="2.85" ry="2.7"/><ellipse cx="189.80" cy="80.30" rx="2.85" ry="2.7"/><ellipse cx="195.88" cy="80.30" rx="2.85" ry="2.7"/><ellipse cx="201.96" cy="80.30" rx="2.85" ry="2.7"/><ellipse cx="208.04" cy="80.30" rx="2.85" ry="2.7"/><ellipse cx="214.12" cy="80.30" rx="2.85" ry="2.7"/><ellipse cx="220.20" cy="80.30" rx="2.85" ry="2.7"/><ellipse cx="226.28" cy="80.30" rx="2.85" ry="2.7"/><ellipse cx="232.36" cy="80.30" rx="2.85" ry="2.7"/><ellipse cx="238.44" cy="80.30" rx="2.85" ry="2.7"/><ellipse cx="244.52" cy="80.30" rx="2.85" ry="2.7"/><ellipse cx="250.60" cy="80.30" rx="2.85" ry="2.7"/><ellipse cx="256.68" cy="80.30" rx="2.85" ry="2.7"/><ellipse cx="189.80" cy="86.60" rx="2.85" ry="2.7"/><ellipse cx="195.88" cy="86.60" rx="2.85" ry="2.7"/><ellipse cx="201.96" cy="86.60" rx="2.85" ry="2.7"/><ellipse cx="208.04" cy="86.60" rx="2.85" ry="2.7"/><ellipse cx="214.12" cy="86.60" rx="2.85" ry="2.7"/><ellipse cx="220.20" cy="86.60" rx="2.85" ry="2.7"/><ellipse cx="226.28" cy="86.60" rx="2.85" ry="2.7"/><ellipse cx="232.36" cy="86.60" rx="2.85" ry="2.7"/><ellipse cx="238.44" cy="86.60" rx="2.85" ry="2.7"/><ellipse cx="244.52" cy="86.60" rx="2.85" ry="2.7"/><ellipse cx="250.60" cy="86.60" rx="2.85" ry="2.7"/><ellipse cx="256.68" cy="86.60" rx="2.85" ry="2.7"/><ellipse cx="189.80" cy="92.90" rx="2.85" ry="2.7"/><ellipse cx="195.88" cy="92.90" rx="2.85" ry="2.7"/><ellipse cx="201.96" cy="92.90" rx="2.85" ry="2.7"/><ellipse cx="208.04" cy="92.90" rx="2.85" ry="2.7"/><ellipse cx="214.12" cy="92.90" rx="2.85" ry="2.7"/><ellipse cx="220.20" cy="92.90" rx="2.85" ry="2.7"/><ellipse cx="226.28" cy="92.90" rx="2.85" ry="2.7"/><ellipse cx="232.36" cy="92.90" rx="2.85" ry="2.7"/><ellipse cx="238.44" cy="92.90" rx="2.85" ry="2.7"/><ellipse cx="244.52" cy="92.90" rx="2.85" ry="2.7"/><ellipse cx="250.60" cy="92.90" rx="2.85" ry="2.7"/><ellipse cx="256.68" cy="92.90" rx="2.85" ry="2.7"/></g>
<g font-size="2.5" fill="#808080" text-anchor="middle"><text x="189.80" y="44.50" stroke="none">1</text><text x="195.88" y="44.50" stroke="none">2</text><text x="201.96" y="44.50" stroke="none">3</text><text x="208.04" y="44.50" stroke="none">4</text><text x="214.12" y="44.50" stroke="none">5</text><text x="220.20" y="44.50" stroke="none">6</text><text x="226.28" y="44.50" stroke="none">7</text><text x="232.36" y="44.50" stroke="none">8</text><text x="238.44" y="44.50" stroke="none">9</text><text x="244.52" y="44.50" stroke="none">10</text><text x="250.60" y="44.50" stroke="none">11</text><text x="256.68" y="44.50" stroke="none">12</text><text x="184.20" y="49.70" stroke="none">A</text><text x="184.20" y="56.00" stroke="none">B</text><text x="184.20" y="62.30" stroke="none">C</text><text x="184.20" y="68.60" stroke="none">D</text><text x="184.20" y="74.90" stroke="none">E</text><text x="184.20" y="81.20" stroke="none">F</text><text x="184.20" y="87.50" stroke="none">G</text><text x="184.20" y="93.80" stroke="none">H</text></g>
<path d="M211.3,51.8 H253.7 V90 H217.5 V70.3 H211.3 Z" fill="none" stroke="#2b9fdc" stroke-width="1" stroke-dasharray="3,1.6"/>
<path d="M256.5,48.5 C273,24 332,13 356.5,36.5" fill="none" stroke="#333" stroke-width="0.8"/>
<path d="M335,25.5 C344,28.5 351,32 356.5,36.5" fill="none" stroke="#333" stroke-width="1.3"/>
<path d="M360,40.5 L354.2,37.6 L357.8,34.4 Z" fill="#333"/>
<path d="M274,74.6 H313" stroke="#000" stroke-width="1.6"/>
<path d="M319,74.6 L312.1,71.1 L312.1,78.1 Z" fill="#000"/>
<g transform="translate(277.72,67.9) scale(0.9382,1)" fill="#231f20" font-size="10.2"><text x="0" y="0" stroke="#231f20" stroke-width="0.18">37 </text><text x="14.48" y="-4.6" font-size="4.5" stroke="none">o</text><text x="16.78" y="0" font-family="Liberation Serif" font-size="10.6" stroke="#231f20" stroke-width="0.1">C</text><text x="24.38" y="0" stroke="#231f20" stroke-width="0.18">, 24 h</text></g>
<circle cx="148.4" cy="102" r="6.6" fill="#2a9bd9"/>
<path d="M148.9,98.6 V105.4 M148.9,98.7 Q147.9,100.2 146.4,100.5" fill="none" stroke="#fff" stroke-width="1.25"/>
<circle cx="293.8" cy="100.8" r="6.8" fill="#2a9bd9"/>
<text x="293.80" y="104.20" font-size="9.5" text-anchor="middle" fill="#fff"  stroke="#fff" stroke-width="0.18">2</text>
<g transform="translate(332,39.4)"><path d="M0.5,8 L0.5,11.8 A13,5.6 0 0 0 26.5,11.8 L26.5,8" fill="#f0c677" stroke="#7d6540" stroke-width="0.5"/><path d="M0.7,10.2 A12.8,5.3 0 0 0 26.3,10.2" fill="none" stroke="#7d6540" stroke-width="0.45"/><ellipse cx="13.5" cy="8" rx="13" ry="5.6" fill="#f5d390" stroke="#7d6540" stroke-width="0.5"/><ellipse cx="13.5" cy="6.1" rx="13.4" ry="5.4" fill="none" stroke="#707070" stroke-width="0.55"/><rect x="7.00" y="3.70" width="1.6" height="1.6" fill="#e4dccb" stroke="#7a7a7a" stroke-width="0.35" transform="rotate(45 7.8 4.5)"/><rect x="12.20" y="3.70" width="1.6" height="1.6" fill="#e4dccb" stroke="#7a7a7a" stroke-width="0.35" transform="rotate(45 13 4.5)"/><rect x="20.10" y="4.70" width="1.6" height="1.6" fill="#e4dccb" stroke="#7a7a7a" stroke-width="0.35" transform="rotate(45 20.9 5.5)"/><rect x="2.80" y="7.00" width="1.6" height="1.6" fill="#e4dccb" stroke="#7a7a7a" stroke-width="0.35" transform="rotate(45 3.6 7.8)"/><rect x="7.00" y="7.90" width="1.6" height="1.6" fill="#e4dccb" stroke="#7a7a7a" stroke-width="0.35" transform="rotate(45 7.8 8.7)"/><rect x="11.20" y="7.90" width="1.6" height="1.6" fill="#e4dccb" stroke="#7a7a7a" stroke-width="0.35" transform="rotate(45 12 8.7)"/><rect x="16.80" y="7.00" width="1.6" height="1.6" fill="#e4dccb" stroke="#7a7a7a" stroke-width="0.35" transform="rotate(45 17.6 7.8)"/><rect x="21.50" y="7.50" width="1.6" height="1.6" fill="#e4dccb" stroke="#7a7a7a" stroke-width="0.35" transform="rotate(45 22.3 8.3)"/><rect x="14.50" y="10.30" width="1.6" height="1.6" fill="#e4dccb" stroke="#7a7a7a" stroke-width="0.35" transform="rotate(45 15.3 11.1)"/><rect x="18.70" y="9.80" width="1.6" height="1.6" fill="#e4dccb" stroke="#7a7a7a" stroke-width="0.35" transform="rotate(45 19.5 10.6)"/><rect x="5.20" y="12.20" width="1.6" height="1.6" fill="#e4dccb" stroke="#7a7a7a" stroke-width="0.35" transform="rotate(45 6 13)"/><rect x="14.00" y="13.10" width="1.6" height="1.6" fill="#e4dccb" stroke="#7a7a7a" stroke-width="0.35" transform="rotate(45 14.8 13.9)"/></g>
<g transform="translate(363.9,39.4)"><path d="M0.5,8 L0.5,11.8 A13,5.6 0 0 0 26.5,11.8 L26.5,8" fill="#f0c677" stroke="#7d6540" stroke-width="0.5"/><path d="M0.7,10.2 A12.8,5.3 0 0 0 26.3,10.2" fill="none" stroke="#7d6540" stroke-width="0.45"/><ellipse cx="13.5" cy="8" rx="13" ry="5.6" fill="#f5d390" stroke="#7d6540" stroke-width="0.5"/><ellipse cx="13.5" cy="6.1" rx="13.4" ry="5.4" fill="none" stroke="#707070" stroke-width="0.55"/></g>
<g transform="translate(332,60.7)"><path d="M0.5,8 L0.5,11.8 A13,5.6 0 0 0 26.5,11.8 L26.5,8" fill="#f0c677" stroke="#7d6540" stroke-width="0.5"/><path d="M0.7,10.2 A12.8,5.3 0 0 0 26.3,10.2" fill="none" stroke="#7d6540" stroke-width="0.45"/><ellipse cx="13.5" cy="8" rx="13" ry="5.6" fill="#f5d390" stroke="#7d6540" stroke-width="0.5"/><ellipse cx="13.5" cy="6.1" rx="13.4" ry="5.4" fill="none" stroke="#707070" stroke-width="0.55"/><rect x="7.00" y="3.70" width="1.6" height="1.6" fill="#e4dccb" stroke="#7a7a7a" stroke-width="0.35" transform="rotate(45 7.8 4.5)"/><rect x="12.20" y="3.70" width="1.6" height="1.6" fill="#e4dccb" stroke="#7a7a7a" stroke-width="0.35" transform="rotate(45 13 4.5)"/><rect x="20.10" y="4.70" width="1.6" height="1.6" fill="#e4dccb" stroke="#7a7a7a" stroke-width="0.35" transform="rotate(45 20.9 5.5)"/><rect x="2.80" y="7.00" width="1.6" height="1.6" fill="#e4dccb" stroke="#7a7a7a" stroke-width="0.35" transform="rotate(45 3.6 7.8)"/><rect x="7.00" y="7.90" width="1.6" height="1.6" fill="#e4dccb" stroke="#7a7a7a" stroke-width="0.35" transform="rotate(45 7.8 8.7)"/><rect x="11.20" y="7.90" width="1.6" height="1.6" fill="#e4dccb" stroke="#7a7a7a" stroke-width="0.35" transform="rotate(45 12 8.7)"/><rect x="16.80" y="7.00" width="1.6" height="1.6" fill="#e4dccb" stroke="#7a7a7a" stroke-width="0.35" transform="rotate(45 17.6 7.8)"/><rect x="21.50" y="7.50" width="1.6" height="1.6" fill="#e4dccb" stroke="#7a7a7a" stroke-width="0.35" transform="rotate(45 22.3 8.3)"/><rect x="14.50" y="10.30" width="1.6" height="1.6" fill="#e4dccb" stroke="#7a7a7a" stroke-width="0.35" transform="rotate(45 15.3 11.1)"/><rect x="18.70" y="9.80" width="1.6" height="1.6" fill="#e4dccb" stroke="#7a7a7a" stroke-width="0.35" transform="rotate(45 19.5 10.6)"/><rect x="5.20" y="12.20" width="1.6" height="1.6" fill="#e4dccb" stroke="#7a7a7a" stroke-width="0.35" transform="rotate(45 6 13)"/><rect x="14.00" y="13.10" width="1.6" height="1.6" fill="#e4dccb" stroke="#7a7a7a" stroke-width="0.35" transform="rotate(45 14.8 13.9)"/></g>
<g transform="translate(363.9,60.7)"><path d="M0.5,8 L0.5,11.8 A13,5.6 0 0 0 26.5,11.8 L26.5,8" fill="#f0c677" stroke="#7d6540" stroke-width="0.5"/><path d="M0.7,10.2 A12.8,5.3 0 0 0 26.3,10.2" fill="none" stroke="#7d6540" stroke-width="0.45"/><ellipse cx="13.5" cy="8" rx="13" ry="5.6" fill="#f5d390" stroke="#7d6540" stroke-width="0.5"/><ellipse cx="13.5" cy="6.1" rx="13.4" ry="5.4" fill="none" stroke="#707070" stroke-width="0.55"/></g>
<g transform="translate(332,82.0)"><path d="M0.5,8 L0.5,11.8 A13,5.6 0 0 0 26.5,11.8 L26.5,8" fill="#f0c677" stroke="#7d6540" stroke-width="0.5"/><path d="M0.7,10.2 A12.8,5.3 0 0 0 26.3,10.2" fill="none" stroke="#7d6540" stroke-width="0.45"/><ellipse cx="13.5" cy="8" rx="13" ry="5.6" fill="#f5d390" stroke="#7d6540" stroke-width="0.5"/><ellipse cx="13.5" cy="6.1" rx="13.4" ry="5.4" fill="none" stroke="#707070" stroke-width="0.55"/><rect x="7.00" y="3.70" width="1.6" height="1.6" fill="#e4dccb" stroke="#7a7a7a" stroke-width="0.35" transform="rotate(45 7.8 4.5)"/><rect x="12.20" y="3.70" width="1.6" height="1.6" fill="#e4dccb" stroke="#7a7a7a" stroke-width="0.35" transform="rotate(45 13 4.5)"/><rect x="20.10" y="4.70" width="1.6" height="1.6" fill="#e4dccb" stroke="#7a7a7a" stroke-width="0.35" transform="rotate(45 20.9 5.5)"/><rect x="2.80" y="7.00" width="1.6" height="1.6" fill="#e4dccb" stroke="#7a7a7a" stroke-width="0.35" transform="rotate(45 3.6 7.8)"/><rect x="7.00" y="7.90" width="1.6" height="1.6" fill="#e4dccb" stroke="#7a7a7a" stroke-width="0.35" transform="rotate(45 7.8 8.7)"/><rect x="11.20" y="7.90" width="1.6" height="1.6" fill="#e4dccb" stroke="#7a7a7a" stroke-width="0.35" transform="rotate(45 12 8.7)"/><rect x="16.80" y="7.00" width="1.6" height="1.6" fill="#e4dccb" stroke="#7a7a7a" stroke-width="0.35" transform="rotate(45 17.6 7.8)"/><rect x="21.50" y="7.50" width="1.6" height="1.6" fill="#e4dccb" stroke="#7a7a7a" stroke-width="0.35" transform="rotate(45 22.3 8.3)"/><rect x="14.50" y="10.30" width="1.6" height="1.6" fill="#e4dccb" stroke="#7a7a7a" stroke-width="0.35" transform="rotate(45 15.3 11.1)"/><rect x="18.70" y="9.80" width="1.6" height="1.6" fill="#e4dccb" stroke="#7a7a7a" stroke-width="0.35" transform="rotate(45 19.5 10.6)"/><rect x="5.20" y="12.20" width="1.6" height="1.6" fill="#e4dccb" stroke="#7a7a7a" stroke-width="0.35" transform="rotate(45 6 13)"/><rect x="14.00" y="13.10" width="1.6" height="1.6" fill="#e4dccb" stroke="#7a7a7a" stroke-width="0.35" transform="rotate(45 14.8 13.9)"/></g>
<g transform="translate(363.9,82.0)"><path d="M0.5,8 L0.5,11.8 A13,5.6 0 0 0 26.5,11.8 L26.5,8" fill="#f0c677" stroke="#7d6540" stroke-width="0.5"/><path d="M0.7,10.2 A12.8,5.3 0 0 0 26.3,10.2" fill="none" stroke="#7d6540" stroke-width="0.45"/><ellipse cx="13.5" cy="8" rx="13" ry="5.6" fill="#f5d390" stroke="#7d6540" stroke-width="0.5"/><ellipse cx="13.5" cy="6.1" rx="13.4" ry="5.4" fill="none" stroke="#707070" stroke-width="0.55"/></g>
<text x="28.02" y="115.00" font-size="11.7" fill="#231f20"  stroke="#231f20" stroke-width="0.18">2 fold serial dilute</text>
<text x="190.66" y="114.30" font-size="10.4" textLength="49.01" lengthAdjust="spacingAndGlyphs" fill="#231f20"  stroke="#231f20" stroke-width="0.18">Read OD</text>
<text x="239.65" y="119.40" font-size="7.0" textLength="11.55" lengthAdjust="spacingAndGlyphs" fill="#231f20"  stroke="#231f20" stroke-width="0.18">600</text>
<text x="333.04" y="115.00" font-size="11.4" textLength="21.98" lengthAdjust="spacingAndGlyphs" fill="#231f20"  stroke="#231f20" stroke-width="0.18">MIC</text>
<text x="363.36" y="115.00" font-size="11.4" textLength="26.14" lengthAdjust="spacingAndGlyphs" fill="#231f20"  stroke="#231f20" stroke-width="0.18">MBC</text>
<text x="117.07" y="132.00" font-size="12.2" textLength="106.26" lengthAdjust="spacingAndGlyphs" fill="#231f20"  stroke="#231f20" stroke-width="0.18">MIC measurement</text>
<text x="252.56" y="132.00" font-size="12.2" textLength="111.55" lengthAdjust="spacingAndGlyphs" fill="#231f20"  stroke="#231f20" stroke-width="0.18">MBC measurement</text>
<text x="501.58" y="26.30" font-size="12.5" font-weight="bold" textLength="102.00" lengthAdjust="spacingAndGlyphs" fill="#231f20"  stroke="#231f20" stroke-width="0.18">Hemolysis assay</text>
<circle cx="450.7" cy="70.7" r="27.4" fill="#fce6e0" stroke="#6a6a6a" stroke-width="0.6"/>
<g transform="translate(434.0,62.0) rotate(-74.6) scale(1.0)"><ellipse rx="8.6" ry="5.1" fill="#f5c6c7" stroke="#2b2b2b" stroke-width="0.9"/><ellipse rx="6.1" ry="3.3" fill="#e3878c"/></g>
<g transform="translate(455.7,55.0) rotate(-36.9) scale(1.0)"><ellipse rx="8.6" ry="5.1" fill="#f5c6c7" stroke="#2b2b2b" stroke-width="0.9"/><ellipse rx="6.1" ry="3.3" fill="#e3878c"/></g>
<g transform="translate(451.4,72.2) rotate(-35.8) scale(1.0)"><ellipse rx="8.6" ry="5.1" fill="#f5c6c7" stroke="#2b2b2b" stroke-width="0.9"/><ellipse rx="6.1" ry="3.3" fill="#e3878c"/></g>
<g transform="translate(468.4,75.8) rotate(-75) scale(1.0)"><ellipse rx="8.6" ry="5.1" fill="#f5c6c7" stroke="#2b2b2b" stroke-width="0.9"/><ellipse rx="6.1" ry="3.3" fill="#e3878c"/></g>
<g transform="translate(442.3,87.6) rotate(37.7) scale(1.0)"><ellipse rx="8.6" ry="5.1" fill="#f5c6c7" stroke="#2b2b2b" stroke-width="0.9"/><ellipse rx="6.1" ry="3.3" fill="#e3878c"/></g>
<path d="M507.9,73.2 Q497.5,79.4 486.5,79.1 L486.5,81.9 Q498.5,82.4 507.9,73.6 Z" fill="#8dc49a"/>
<path d="M479.8,78.4 L487.2,76.3 L485.6,84.3 Z" fill="#8dc49a"/>
<text x="417.77" y="111.10" font-size="10.9" textLength="70.71" lengthAdjust="spacingAndGlyphs" fill="#231f20"  stroke="#231f20" stroke-width="0.18">Nonhemolytic</text>
<rect x="508.6" y="43.2" width="90.6" height="71.6" fill="none" stroke="#7a7a7a" stroke-width="0.8" stroke-dasharray="4,2.6"/>
<path d="M517.3,53.8 V88.5 A4.35,4.35 0 0 0 526,88.5 V53.8" fill="#fff" stroke="#808080" stroke-width="0.6"/>
<path d="M517.3,79.3 Q521.6,78.2 526,79.3 V88.5 A4.35,4.35 0 0 1 517.3,88.5 Z" fill="#be4a52"/>
<ellipse cx="521.65" cy="53.8" rx="4.35" ry="1.1" fill="#fff" stroke="#808080" stroke-width="0.5"/>
<path d="M525.8,79.3 L529.8,64.6 M525.8,79.3 L542.6,72.4" stroke="#444" stroke-width="0.45"/>
<circle cx="538.2" cy="64.4" r="8.5" fill="#fce6e0" stroke="#666" stroke-width="0.55"/>
<g transform="translate(535.0,61.5) rotate(-20)"><ellipse rx="2.7" ry="1.6" fill="#f4b7b9" stroke="#d88" stroke-width="0.35"/><ellipse rx="1.7" ry="0.8" fill="#e58a8e"/></g>
<g transform="translate(543.1,65.1) rotate(-80)"><ellipse rx="2.7" ry="1.6" fill="#f4b7b9" stroke="#d88" stroke-width="0.35"/><ellipse rx="1.7" ry="0.8" fill="#e58a8e"/></g>
<g transform="translate(536.3,69.7) rotate(20)"><ellipse rx="2.7" ry="1.6" fill="#f4b7b9" stroke="#d88" stroke-width="0.35"/><ellipse rx="1.7" ry="0.8" fill="#e58a8e"/></g>
<path d="M549.5,76.2 H556.8 M553.15,72.6 V79.8" stroke="#231f20" stroke-width="2"/>
<path d="M561.8,65.8 L565.8,66.9 L566.0,68.0" fill="none" stroke="#777" stroke-width="0.8"/>
<path d="M572.0,69.0 L578.6,70.2 L579.9,82.9 L574.3,81.7 Z" fill="#b81d26"/>
<path d="M564.6,67.4 L567.1,67.9 L566.9,72.3 L572.3,68.7 L575.2,70.3 L567.9,77.7 L565.9,77.9 L563.0,73.9 Z" fill="#d0222c"/>
<path d="M563.0,73.9 L565.9,77.9 L567.9,77.7 L566.4,75.2 Z" fill="#8c1218"/>
<path d="M578.6,70.4 L579.9,82.9 L578.2,82.6 L577.4,71.2 Z" fill="#8c1218"/>
<path d="M579.6,80.2 Q581.5,74.6 584.9,75.2 Q588.6,76.0 588.4,83.4" fill="none" stroke="#2aa84a" stroke-width="1.3"/>
<path d="M589.0,77.8 L593.4,67.3" stroke="#555" stroke-width="0.65"/>
<text x="511.65" y="111.40" font-size="12.0" textLength="34.33" lengthAdjust="spacingAndGlyphs" fill="#231f20"  stroke="#231f20" stroke-width="0.18">RBCs</text>
<text x="561.64" y="111.40" font-size="12.0" textLength="34.14" lengthAdjust="spacingAndGlyphs" fill="#231f20"  stroke="#231f20" stroke-width="0.18">AMPs</text>
<path d="M600.4,73.0 Q611,63.5 624.6,73.8 L622.2,77.4 Q610.5,67.6 600.4,73.5 Z" fill="#d06891"/>
<path d="M629.2,78.9 L626.2,70.6 L620.4,77.4 Z" fill="#d06891"/>
<circle cx="657.0" cy="71.0" r="27.4" fill="#fce6e0" stroke="#6a6a6a" stroke-width="0.6"/>
<g transform="translate(656.4,53.3) rotate(-3)"><polygon points="10.32,0.00 7.05,1.22 8.82,3.29 5.16,3.33 4.83,5.41 1.89,4.55 0.00,6.08 -1.89,4.55 -4.90,5.49 -5.16,3.33 -8.35,3.11 -7.05,1.22 -10.23,0.00 -7.05,-1.22 -8.22,-3.06 -5.16,-3.33 -4.88,-5.46 -1.89,-4.55 -0.00,-6.41 1.89,-4.55 5.21,-5.83 5.16,-3.33 8.49,-3.16 7.05,-1.22" fill="#f8cfcf" stroke="#2b2b2b" stroke-width="0.65"/><ellipse rx="5.76" ry="3.10" fill="#fbe3e3"/><ellipse rx="4.99" ry="2.48" fill="#e5878b" stroke="#5a3a3a" stroke-width="0.35"/></g>
<g transform="translate(639.8,72.0) rotate(-72)"><polygon points="9.23,0.00 7.05,1.22 8.94,3.33 5.16,3.33 5.10,5.70 1.89,4.55 0.00,6.08 -1.89,4.55 -4.89,5.47 -5.16,3.33 -8.41,3.14 -7.05,1.22 -10.02,0.00 -7.05,-1.22 -8.86,-3.31 -5.16,-3.33 -4.58,-5.13 -1.89,-4.55 -0.00,-5.86 1.89,-4.55 5.15,-5.77 5.16,-3.33 8.39,-3.13 7.05,-1.22" fill="#f8cfcf" stroke="#2b2b2b" stroke-width="0.65"/><ellipse rx="5.76" ry="3.10" fill="#fbe3e3"/><ellipse rx="4.99" ry="2.48" fill="#e5878b" stroke="#5a3a3a" stroke-width="0.35"/></g>
<g transform="translate(657.0,70.4) rotate(-30)"><polygon points="10.49,0.00 7.05,1.22 9.08,3.38 5.16,3.33 4.56,5.10 1.89,4.55 0.00,5.91 -1.89,4.55 -5.15,5.76 -5.16,3.33 -8.79,3.28 -7.05,1.22 -10.05,0.00 -7.05,-1.22 -8.22,-3.07 -5.16,-3.33 -4.98,-5.57 -1.89,-4.55 -0.00,-6.43 1.89,-4.55 4.96,-5.55 5.16,-3.33 8.03,-2.99 7.05,-1.22" fill="#f8cfcf" stroke="#2b2b2b" stroke-width="0.65"/><ellipse rx="5.76" ry="3.10" fill="#fbe3e3"/><ellipse rx="4.99" ry="2.48" fill="#e5878b" stroke="#5a3a3a" stroke-width="0.35"/></g>
<g transform="translate(674.2,74.2) rotate(-82)"><polygon points="9.39,0.00 7.05,1.22 8.54,3.18 5.16,3.33 4.80,5.37 1.89,4.55 0.00,6.43 -1.89,4.55 -4.99,5.58 -5.16,3.33 -7.90,2.95 -7.05,1.22 -9.04,0.00 -7.05,-1.22 -8.93,-3.33 -5.16,-3.33 -4.71,-5.27 -1.89,-4.55 -0.00,-6.06 1.89,-4.55 5.28,-5.90 5.16,-3.33 8.44,-3.15 7.05,-1.22" fill="#f8cfcf" stroke="#2b2b2b" stroke-width="0.65"/><ellipse rx="5.76" ry="3.10" fill="#fbe3e3"/><ellipse rx="4.99" ry="2.48" fill="#e5878b" stroke="#5a3a3a" stroke-width="0.35"/></g>
<g transform="translate(654.3,88.2) rotate(-8)"><polygon points="9.39,0.00 7.05,1.22 7.95,2.97 5.16,3.33 4.82,5.39 1.89,4.55 0.00,5.98 -1.89,4.55 -4.56,5.10 -5.16,3.33 -8.35,3.11 -7.05,1.22 -10.43,0.00 -7.05,-1.22 -8.88,-3.31 -5.16,-3.33 -5.10,-5.70 -1.89,-4.55 -0.00,-6.05 1.89,-4.55 4.92,-5.51 5.16,-3.33 8.18,-3.05 7.05,-1.22" fill="#f8cfcf" stroke="#2b2b2b" stroke-width="0.65"/><ellipse rx="5.76" ry="3.10" fill="#fbe3e3"/><ellipse rx="4.99" ry="2.48" fill="#e5878b" stroke="#5a3a3a" stroke-width="0.35"/></g>
<text x="627.86" y="111.40" font-size="10.9" textLength="56.96" lengthAdjust="spacingAndGlyphs" fill="#231f20"  stroke="#231f20" stroke-width="0.18">Hemolytic</text>
<defs><linearGradient id="cb" x1="0" y1="0" x2="0" y2="1"><stop offset="0" stop-color="#6494cd"/><stop offset="0.5" stop-color="#a9c3e4"/><stop offset="0.78" stop-color="#e3ecf7"/><stop offset="0.9" stop-color="#fdfdfe"/><stop offset="0.94" stop-color="#fce8e8"/><stop offset="1" stop-color="#f6b8b8"/></linearGradient></defs>
<rect x="41.5" y="165.3" width="6.2" height="64" fill="url(#cb)" stroke="#111" stroke-width="0.8"/>
<text x="16.77" y="167.90" font-size="11.5" textLength="24.57" lengthAdjust="spacingAndGlyphs"  stroke="#000" stroke-width="0.18">1000</text>
<path d="M41.5,178.10 h1.5 M46.2,178.10 h1.5" stroke="#111" stroke-width="0.9"/>
<text x="20.20" y="180.80" font-size="11.5" textLength="18.69" lengthAdjust="spacingAndGlyphs"  stroke="#000" stroke-width="0.18">800</text>
<path d="M41.5,190.90 h1.5 M46.2,190.90 h1.5" stroke="#111" stroke-width="0.9"/>
<text x="20.03" y="193.40" font-size="11.5" textLength="18.96" lengthAdjust="spacingAndGlyphs"  stroke="#000" stroke-width="0.18">600</text>
<path d="M41.5,203.70 h1.5 M46.2,203.70 h1.5" stroke="#111" stroke-width="0.9"/>
<text x="20.22" y="206.30" font-size="11.5" textLength="18.88" lengthAdjust="spacingAndGlyphs"  stroke="#000" stroke-width="0.18">400</text>
<path d="M41.5,216.50 h1.5 M46.2,216.50 h1.5" stroke="#111" stroke-width="0.9"/>
<text x="19.82" y="219.20" font-size="11.5" textLength="19.39" lengthAdjust="spacingAndGlyphs"  stroke="#000" stroke-width="0.18">200</text>
<text x="28.59" y="231.70" font-size="11.5" textLength="7.14" lengthAdjust="spacingAndGlyphs"  stroke="#000" stroke-width="0.18">0</text>
<text x="-0.3" y="245.2" font-size="11.6" stroke="#000" stroke-width="0.18">(µg ml<tspan font-size="6.5" dy="-4.6">-1</tspan><tspan dy="4.6">)</tspan></text>
<rect x="53.30" y="164.10" width="9.91" height="9.82" fill="#f7d3d3"/><rect x="63.16" y="164.10" width="9.91" height="9.82" fill="#6393cd"/><rect x="73.02" y="164.10" width="9.91" height="9.82" fill="#b9cfea"/><rect x="82.88" y="164.10" width="9.91" height="9.82" fill="#e2ebf6"/><rect x="92.74" y="164.10" width="9.91" height="9.82" fill="#6393cd"/><rect x="53.30" y="173.87" width="9.91" height="9.82" fill="#e99393"/><rect x="63.16" y="173.87" width="9.91" height="9.82" fill="#f1b2b2"/><rect x="73.02" y="173.87" width="9.91" height="9.82" fill="#f1b2b2"/><rect x="82.88" y="173.87" width="9.91" height="9.82" fill="#f1b2b2"/><rect x="92.74" y="173.87" width="9.91" height="9.82" fill="#f7d3d3"/><rect x="53.30" y="183.63" width="9.91" height="9.82" fill="#e99393"/><rect x="63.16" y="183.63" width="9.91" height="9.82" fill="#f1b2b2"/><rect x="73.02" y="183.63" width="9.91" height="9.82" fill="#f7d3d3"/><rect x="82.88" y="183.63" width="9.91" height="9.82" fill="#eda3a3"/><rect x="92.74" y="183.63" width="9.91" height="9.82" fill="#f7d3d3"/><rect x="53.30" y="193.40" width="9.91" height="9.82" fill="#f8f9fc"/><rect x="63.16" y="193.40" width="9.91" height="9.82" fill="#6393cd"/><rect x="73.02" y="193.40" width="9.91" height="9.82" fill="#e2ebf6"/><rect x="82.88" y="193.40" width="9.91" height="9.82" fill="#b9cfea"/><rect x="92.74" y="193.40" width="9.91" height="9.82" fill="#6393cd"/><rect x="53.30" y="203.16" width="9.91" height="9.82" fill="#e99393"/><rect x="63.16" y="203.16" width="9.91" height="9.82" fill="#f1b2b2"/><rect x="73.02" y="203.16" width="9.91" height="9.82" fill="#f7d3d3"/><rect x="82.88" y="203.16" width="9.91" height="9.82" fill="#f1b2b2"/><rect x="92.74" y="203.16" width="9.91" height="9.82" fill="#f1b2b2"/><rect x="53.30" y="212.93" width="9.91" height="9.82" fill="#e99393"/><rect x="63.16" y="212.93" width="9.91" height="9.82" fill="#f1b2b2"/><rect x="73.02" y="212.93" width="9.91" height="9.82" fill="#f1b2b2"/><rect x="82.88" y="212.93" width="9.91" height="9.82" fill="#eda3a3"/><rect x="92.74" y="212.93" width="9.91" height="9.82" fill="#eda3a3"/><rect x="53.30" y="222.70" width="9.91" height="9.82" fill="#eda3a3"/><rect x="63.16" y="222.70" width="9.91" height="9.82" fill="#eda3a3"/><rect x="73.02" y="222.70" width="9.91" height="9.82" fill="#f1b2b2"/><rect x="82.88" y="222.70" width="9.91" height="9.82" fill="#f1b2b2"/><rect x="92.74" y="222.70" width="9.91" height="9.82" fill="#f7d3d3"/><rect x="53.30" y="232.46" width="9.91" height="9.82" fill="#e99393"/><rect x="63.16" y="232.46" width="9.91" height="9.82" fill="#f7d3d3"/><rect x="73.02" y="232.46" width="9.91" height="9.82" fill="#f8f9fc"/><rect x="82.88" y="232.46" width="9.91" height="9.82" fill="#f7d3d3"/><rect x="92.74" y="232.46" width="9.91" height="9.82" fill="#f8f9fc"/><rect x="53.30" y="242.23" width="9.91" height="9.82" fill="#f1b2b2"/><rect x="63.16" y="242.23" width="9.91" height="9.82" fill="#b9cfea"/><rect x="73.02" y="242.23" width="9.91" height="9.82" fill="#f7d3d3"/><rect x="82.88" y="242.23" width="9.91" height="9.82" fill="#f1b2b2"/><rect x="92.74" y="242.23" width="9.91" height="9.82" fill="#f7d3d3"/><rect x="53.30" y="251.99" width="9.91" height="9.82" fill="#eda3a3"/><rect x="63.16" y="251.99" width="9.91" height="9.82" fill="#f8f9fc"/><rect x="73.02" y="251.99" width="9.91" height="9.82" fill="#f7d3d3"/><rect x="82.88" y="251.99" width="9.91" height="9.82" fill="#f1b2b2"/><rect x="92.74" y="251.99" width="9.91" height="9.82" fill="#f7d3d3"/><rect x="53.30" y="261.76" width="9.91" height="9.82" fill="#f1b2b2"/><rect x="63.16" y="261.76" width="9.91" height="9.82" fill="#6393cd"/><rect x="73.02" y="261.76" width="9.91" height="9.82" fill="#f8f9fc"/><rect x="82.88" y="261.76" width="9.91" height="9.82" fill="#e2ebf6"/><rect x="92.74" y="261.76" width="9.91" height="9.82" fill="#e2ebf6"/><rect x="53.30" y="271.53" width="9.91" height="9.82" fill="#f7d3d3"/><rect x="63.16" y="271.53" width="9.91" height="9.82" fill="#6393cd"/><rect x="73.02" y="271.53" width="9.91" height="9.82" fill="#e2ebf6"/><rect x="82.88" y="271.53" width="9.91" height="9.82" fill="#e2ebf6"/><rect x="92.74" y="271.53" width="9.91" height="9.82" fill="#b9cfea"/><rect x="53.30" y="281.29" width="9.91" height="9.82" fill="#f1b2b2"/><rect x="63.16" y="281.29" width="9.91" height="9.82" fill="#b9cfea"/><rect x="73.02" y="281.29" width="9.91" height="9.82" fill="#f8f9fc"/><rect x="82.88" y="281.29" width="9.91" height="9.82" fill="#f8f9fc"/><rect x="92.74" y="281.29" width="9.91" height="9.82" fill="#e2ebf6"/><rect x="53.30" y="291.06" width="9.91" height="9.82" fill="#eda3a3"/><rect x="63.16" y="291.06" width="9.91" height="9.82" fill="#6393cd"/><rect x="73.02" y="291.06" width="9.91" height="9.82" fill="#b9cfea"/><rect x="82.88" y="291.06" width="9.91" height="9.82" fill="#f1b2b2"/><rect x="92.74" y="291.06" width="9.91" height="9.82" fill="#e2ebf6"/><rect x="53.30" y="300.82" width="9.91" height="9.82" fill="#e99393"/><rect x="63.16" y="300.82" width="9.91" height="9.82" fill="#f1b2b2"/><rect x="73.02" y="300.82" width="9.91" height="9.82" fill="#f7d3d3"/><rect x="82.88" y="300.82" width="9.91" height="9.82" fill="#f7d3d3"/><rect x="92.74" y="300.82" width="9.91" height="9.82" fill="#f8f9fc"/><rect x="53.30" y="310.59" width="9.91" height="9.82" fill="#e99393"/><rect x="63.16" y="310.59" width="9.91" height="9.82" fill="#f8f9fc"/><rect x="73.02" y="310.59" width="9.91" height="9.82" fill="#f7d3d3"/><rect x="82.88" y="310.59" width="9.91" height="9.82" fill="#f1b2b2"/><rect x="92.74" y="310.59" width="9.91" height="9.82" fill="#f8f9fc"/><rect x="53.30" y="320.36" width="9.91" height="9.82" fill="#eda3a3"/><rect x="63.16" y="320.36" width="9.91" height="9.82" fill="#b9cfea"/><rect x="73.02" y="320.36" width="9.91" height="9.82" fill="#f8f9fc"/><rect x="82.88" y="320.36" width="9.91" height="9.82" fill="#f7d3d3"/><rect x="92.74" y="320.36" width="9.91" height="9.82" fill="#e2ebf6"/><rect x="53.30" y="330.12" width="9.91" height="9.82" fill="#f7d3d3"/><rect x="63.16" y="330.12" width="9.91" height="9.82" fill="#6393cd"/><rect x="73.02" y="330.12" width="9.91" height="9.82" fill="#6393cd"/><rect x="82.88" y="330.12" width="9.91" height="9.82" fill="#b9cfea"/><rect x="92.74" y="330.12" width="9.91" height="9.82" fill="#6393cd"/><rect x="53.30" y="339.89" width="9.91" height="9.82" fill="#f1b2b2"/><rect x="63.16" y="339.89" width="9.91" height="9.82" fill="#6393cd"/><rect x="73.02" y="339.89" width="9.91" height="9.82" fill="#b9cfea"/><rect x="82.88" y="339.89" width="9.91" height="9.82" fill="#e2ebf6"/><rect x="92.74" y="339.89" width="9.91" height="9.82" fill="#6393cd"/><rect x="53.30" y="349.65" width="9.91" height="9.82" fill="#e99393"/><rect x="63.16" y="349.65" width="9.91" height="9.82" fill="#f7d3d3"/><rect x="73.02" y="349.65" width="9.91" height="9.82" fill="#f7d3d3"/><rect x="82.88" y="349.65" width="9.91" height="9.82" fill="#f1b2b2"/><rect x="92.74" y="349.65" width="9.91" height="9.82" fill="#f7d3d3"/><rect x="53.30" y="359.42" width="9.91" height="9.82" fill="#f1b2b2"/><rect x="63.16" y="359.42" width="9.91" height="9.82" fill="#f8f9fc"/><rect x="73.02" y="359.42" width="9.91" height="9.82" fill="#f8f9fc"/><rect x="82.88" y="359.42" width="9.91" height="9.82" fill="#f7d3d3"/><rect x="92.74" y="359.42" width="9.91" height="9.82" fill="#f7d3d3"/><rect x="53.30" y="369.19" width="9.91" height="9.82" fill="#eda3a3"/><rect x="63.16" y="369.19" width="9.91" height="9.82" fill="#f7d3d3"/><rect x="73.02" y="369.19" width="9.91" height="9.82" fill="#f8f9fc"/><rect x="82.88" y="369.19" width="9.91" height="9.82" fill="#f1b2b2"/><rect x="92.74" y="369.19" width="9.91" height="9.82" fill="#f1b2b2"/><rect x="53.30" y="378.95" width="9.91" height="9.82" fill="#eda3a3"/><rect x="63.16" y="378.95" width="9.91" height="9.82" fill="#f7d3d3"/><rect x="73.02" y="378.95" width="9.91" height="9.82" fill="#f8f9fc"/><rect x="82.88" y="378.95" width="9.91" height="9.82" fill="#f1b2b2"/><rect x="92.74" y="378.95" width="9.91" height="9.82" fill="#f7d3d3"/><rect x="53.30" y="388.72" width="9.91" height="9.82" fill="#e99393"/><rect x="63.16" y="388.72" width="9.91" height="9.82" fill="#f1b2b2"/><rect x="73.02" y="388.72" width="9.91" height="9.82" fill="#f7d3d3"/><rect x="82.88" y="388.72" width="9.91" height="9.82" fill="#eda3a3"/><rect x="92.74" y="388.72" width="9.91" height="9.82" fill="#f1b2b2"/><rect x="53.30" y="398.48" width="9.91" height="9.82" fill="#f1b2b2"/><rect x="63.16" y="398.48" width="9.91" height="9.82" fill="#f1b2b2"/><rect x="73.02" y="398.48" width="9.91" height="9.82" fill="#f1b2b2"/><rect x="82.88" y="398.48" width="9.91" height="9.82" fill="#f7d3d3"/><rect x="92.74" y="398.48" width="9.91" height="9.82" fill="#f1b2b2"/><rect x="53.30" y="408.25" width="9.91" height="9.82" fill="#f1b2b2"/><rect x="63.16" y="408.25" width="9.91" height="9.82" fill="#f7d3d3"/><rect x="73.02" y="408.25" width="9.91" height="9.82" fill="#f7d3d3"/><rect x="82.88" y="408.25" width="9.91" height="9.82" fill="#eda3a3"/><rect x="92.74" y="408.25" width="9.91" height="9.82" fill="#f7d3d3"/><rect x="53.30" y="418.02" width="9.91" height="9.82" fill="#eda3a3"/><rect x="63.16" y="418.02" width="9.91" height="9.82" fill="#f7d3d3"/><rect x="73.02" y="418.02" width="9.91" height="9.82" fill="#f7d3d3"/><rect x="82.88" y="418.02" width="9.91" height="9.82" fill="#f1b2b2"/><rect x="92.74" y="418.02" width="9.91" height="9.82" fill="#f7d3d3"/><rect x="53.30" y="427.78" width="9.91" height="9.82" fill="#e99393"/><rect x="63.16" y="427.78" width="9.91" height="9.82" fill="#eda3a3"/><rect x="73.02" y="427.78" width="9.91" height="9.82" fill="#eda3a3"/><rect x="82.88" y="427.78" width="9.91" height="9.82" fill="#f1b2b2"/><rect x="92.74" y="427.78" width="9.91" height="9.82" fill="#f1b2b2"/><rect x="53.30" y="437.55" width="9.91" height="9.82" fill="#eda3a3"/><rect x="63.16" y="437.55" width="9.91" height="9.82" fill="#f7d3d3"/><rect x="73.02" y="437.55" width="9.91" height="9.82" fill="#f1b2b2"/><rect x="82.88" y="437.55" width="9.91" height="9.82" fill="#f1b2b2"/><rect x="92.74" y="437.55" width="9.91" height="9.82" fill="#f7d3d3"/><rect x="53.30" y="447.31" width="9.91" height="9.82" fill="#f8f9fc"/><rect x="63.16" y="447.31" width="9.91" height="9.82" fill="#f8f9fc"/><rect x="73.02" y="447.31" width="9.91" height="9.82" fill="#e2ebf6"/><rect x="82.88" y="447.31" width="9.91" height="9.82" fill="#f7d3d3"/><rect x="92.74" y="447.31" width="9.91" height="9.82" fill="#f8f9fc"/><rect x="53.30" y="457.08" width="9.91" height="9.82" fill="#f8f9fc"/><rect x="63.16" y="457.08" width="9.91" height="9.82" fill="#6393cd"/><rect x="73.02" y="457.08" width="9.91" height="9.82" fill="#6393cd"/><rect x="82.88" y="457.08" width="9.91" height="9.82" fill="#e99393"/><rect x="92.74" y="457.08" width="9.91" height="9.82" fill="#e99393"/><rect x="53.30" y="466.85" width="9.91" height="9.82" fill="#e99393"/><rect x="63.16" y="466.85" width="9.91" height="9.82" fill="#e99393"/><rect x="73.02" y="466.85" width="9.91" height="9.82" fill="#e99393"/><rect x="82.88" y="466.85" width="9.91" height="9.82" fill="#e99393"/><rect x="92.74" y="466.85" width="9.91" height="9.82" fill="#e99393"/>
<path d="M53.3,173.87 H102.60 M53.3,183.63 H102.60 M53.3,193.40 H102.60 M53.3,203.16 H102.60 M53.3,212.93 H102.60 M53.3,222.70 H102.60 M53.3,232.46 H102.60 M53.3,242.23 H102.60 M53.3,251.99 H102.60 M53.3,261.76 H102.60 M53.3,271.53 H102.60 M53.3,281.29 H102.60 M53.3,291.06 H102.60 M53.3,300.82 H102.60 M53.3,310.59 H102.60 M53.3,320.36 H102.60 M53.3,330.12 H102.60 M53.3,339.89 H102.60 M53.3,349.65 H102.60 M53.3,359.42 H102.60 M53.3,369.19 H102.60 M53.3,378.95 H102.60 M53.3,388.72 H102.60 M53.3,398.48 H102.60 M53.3,408.25 H102.60 M53.3,418.02 H102.60 M53.3,427.78 H102.60 M53.3,437.55 H102.60 M53.3,447.31 H102.60 M53.3,457.08 H102.60 M53.3,466.85 H102.60 M63.16,164.1 V476.61 M73.02,164.1 V476.61 M82.88,164.1 V476.61 M92.74,164.1 V476.61" stroke="#1e1e1e" stroke-width="0.85" fill="none"/>
<rect x="53.3" y="164.1" width="49.30" height="312.51" fill="none" stroke="#111" stroke-width="1"/>
<text x="105.38" y="172.68" font-size="10.5" textLength="52.49" lengthAdjust="spacingAndGlyphs"  stroke="#000" stroke-width="0.18">Penetratin</text>
<text x="106.07" y="182.45" font-size="10.5" textLength="23.68" lengthAdjust="spacingAndGlyphs"  stroke="#000" stroke-width="0.18">T1-1</text>
<text x="106.07" y="192.21" font-size="10.5" textLength="23.68" lengthAdjust="spacingAndGlyphs"  stroke="#000" stroke-width="0.18">T1-2</text>
<text x="106.07" y="201.98" font-size="10.5" textLength="23.68" lengthAdjust="spacingAndGlyphs"  stroke="#000" stroke-width="0.18">T1-3</text>
<text x="106.07" y="211.75" font-size="10.5" textLength="23.68" lengthAdjust="spacingAndGlyphs"  stroke="#000" stroke-width="0.18">T1-4</text>
<text x="106.07" y="221.51" font-size="10.5" textLength="23.68" lengthAdjust="spacingAndGlyphs"  stroke="#000" stroke-width="0.18">T1-5</text>
<text x="106.07" y="231.28" font-size="10.5" textLength="23.68" lengthAdjust="spacingAndGlyphs"  stroke="#000" stroke-width="0.18">T1-6</text>
<text x="106.07" y="241.04" font-size="10.5" textLength="23.68" lengthAdjust="spacingAndGlyphs"  stroke="#000" stroke-width="0.18">T1-7</text>
<text x="106.07" y="250.81" font-size="10.5" textLength="23.68" lengthAdjust="spacingAndGlyphs"  stroke="#000" stroke-width="0.18">T1-8</text>
<text x="106.07" y="260.58" font-size="10.5" textLength="23.68" lengthAdjust="spacingAndGlyphs"  stroke="#000" stroke-width="0.18">T1-9</text>
<text x="106.07" y="270.34" font-size="10.5" textLength="30.08" lengthAdjust="spacingAndGlyphs"  stroke="#000" stroke-width="0.18">T1-10</text>
<text x="106.07" y="280.11" font-size="10.5" textLength="29.22" lengthAdjust="spacingAndGlyphs"  stroke="#000" stroke-width="0.18">T1-11</text>
<text x="106.07" y="289.88" font-size="10.5" textLength="30.08" lengthAdjust="spacingAndGlyphs"  stroke="#000" stroke-width="0.18">T1-12</text>
<text x="106.07" y="299.64" font-size="10.5" textLength="30.08" lengthAdjust="spacingAndGlyphs"  stroke="#000" stroke-width="0.18">T1-13</text>
<text x="106.07" y="309.41" font-size="10.5" textLength="30.08" lengthAdjust="spacingAndGlyphs"  stroke="#000" stroke-width="0.18">T1-14</text>
<text x="106.07" y="319.17" font-size="10.5" textLength="30.08" lengthAdjust="spacingAndGlyphs"  stroke="#000" stroke-width="0.18">T1-15</text>
<text x="106.07" y="328.94" font-size="10.5" textLength="30.08" lengthAdjust="spacingAndGlyphs"  stroke="#000" stroke-width="0.18">T1-16</text>
<text x="106.07" y="338.70" font-size="10.5" textLength="30.08" lengthAdjust="spacingAndGlyphs"  stroke="#000" stroke-width="0.18">T1-17</text>
<text x="106.07" y="348.47" font-size="10.5" textLength="30.08" lengthAdjust="spacingAndGlyphs"  stroke="#000" stroke-width="0.18">T1-18</text>
<text x="106.07" y="358.24" font-size="10.5" textLength="23.68" lengthAdjust="spacingAndGlyphs"  stroke="#000" stroke-width="0.18">T2-1</text>
<text x="106.07" y="368.00" font-size="10.5" textLength="23.68" lengthAdjust="spacingAndGlyphs"  stroke="#000" stroke-width="0.18">T2-2</text>
<text x="106.07" y="377.77" font-size="10.5" textLength="23.68" lengthAdjust="spacingAndGlyphs"  stroke="#000" stroke-width="0.18">T2-3</text>
<text x="106.07" y="387.54" font-size="10.5" textLength="23.68" lengthAdjust="spacingAndGlyphs"  stroke="#000" stroke-width="0.18">T2-4</text>
<text x="106.07" y="397.30" font-size="10.5" textLength="23.68" lengthAdjust="spacingAndGlyphs"  stroke="#000" stroke-width="0.18">T2-5</text>
<text x="106.07" y="407.07" font-size="10.5" textLength="23.68" lengthAdjust="spacingAndGlyphs"  stroke="#000" stroke-width="0.18">T2-6</text>
<text x="106.07" y="416.83" font-size="10.5" textLength="23.68" lengthAdjust="spacingAndGlyphs"  stroke="#000" stroke-width="0.18">T2-7</text>
<text x="106.07" y="426.60" font-size="10.5" textLength="23.68" lengthAdjust="spacingAndGlyphs"  stroke="#000" stroke-width="0.18">T2-8</text>
<text x="106.07" y="436.36" font-size="10.5" textLength="23.68" lengthAdjust="spacingAndGlyphs"  stroke="#000" stroke-width="0.18">T2-9</text>
<text x="106.07" y="446.13" font-size="10.5" textLength="30.08" lengthAdjust="spacingAndGlyphs"  stroke="#000" stroke-width="0.18">T2-10</text>
<text x="106.07" y="455.90" font-size="10.5" textLength="29.22" lengthAdjust="spacingAndGlyphs"  stroke="#000" stroke-width="0.18">T2-11</text>
<text x="106.24" y="465.66" font-size="10.5" textLength="61.86" lengthAdjust="spacingAndGlyphs"  stroke="#000" stroke-width="0.18">Vancomycin</text>
<text x="105.38" y="475.43" font-size="10.5" textLength="64.01" lengthAdjust="spacingAndGlyphs"  stroke="#000" stroke-width="0.18">Levofloxacin</text>
<path d="M102.60,168.98 h2.6 M102.60,178.75 h2.6 M102.60,188.51 h2.6 M102.60,198.28 h2.6 M102.60,208.05 h2.6 M102.60,217.81 h2.6 M102.60,227.58 h2.6 M102.60,237.34 h2.6 M102.60,247.11 h2.6 M102.60,256.88 h2.6 M102.60,266.64 h2.6 M102.60,276.41 h2.6 M102.60,286.18 h2.6 M102.60,295.94 h2.6 M102.60,305.71 h2.6 M102.60,315.47 h2.6 M102.60,325.24 h2.6 M102.60,335.00 h2.6 M102.60,344.77 h2.6 M102.60,354.54 h2.6 M102.60,364.30 h2.6 M102.60,374.07 h2.6 M102.60,383.84 h2.6 M102.60,393.60 h2.6 M102.60,403.37 h2.6 M102.60,413.13 h2.6 M102.60,422.90 h2.6 M102.60,432.66 h2.6 M102.60,442.43 h2.6 M102.60,452.20 h2.6 M102.60,461.96 h2.6 M102.60,471.73 h2.6 M58.23,476.61 v2.2 M68.09,476.61 v2.2 M77.95,476.61 v2.2 M87.81,476.61 v2.2 M97.67,476.61 v2.2" stroke="#111" stroke-width="1"/>
<text x="55.60" y="486.20" font-size="10.9" text-anchor="end" font-style="italic" transform="rotate(-42.5 55.60 486.20)" stroke="#000" stroke-width="0.18">E. coli</text>
<text x="69.60" y="485.80" font-size="10.9" text-anchor="end" font-style="italic" transform="rotate(-42.5 69.60 485.80)" stroke="#000" stroke-width="0.18">K. pneumoniae</text>
<text x="82.20" y="488.60" font-size="10.9" text-anchor="end" textLength="70.14" lengthAdjust="spacingAndGlyphs" font-style="italic" transform="rotate(-42.5 82.20 488.60)" stroke="#000" stroke-width="0.18">P. aeruginosa</text>
<text x="94.60" y="490.40" font-size="10.9" text-anchor="end" font-style="italic" transform="rotate(-42.5 94.60 490.40)" stroke="#000" stroke-width="0.18">S.aureus</text>
<text x="111.40" y="492.50" font-size="10.9" text-anchor="end" font-style="italic" transform="rotate(-42.5 111.40 492.50)" stroke="#000" stroke-width="0.18">MRSA</text>
<text x="243.07" y="158.90" font-size="11.3" textLength="98.21" lengthAdjust="spacingAndGlyphs"  stroke="#000" stroke-width="0.18">RBCs hemolysis at</text>
<text x="275.31" y="172.90" font-size="11.3" textLength="49.34" lengthAdjust="spacingAndGlyphs"  stroke="#000" stroke-width="0.18">25 µg/mL</text>
<circle cx="215.1" cy="170.50" r="0.85" fill="#111"/><circle cx="215.1" cy="171.90" r="0.85" fill="#111"/><circle cx="215.1" cy="173.30" r="0.85" fill="#111"/><circle cx="215.1" cy="174.70" r="0.85" fill="#111"/><rect x="218.10" y="178.67" width="70.31" height="6.4" fill="#a6a6a6"/><rect x="295.26" y="180.17" width="1.2" height="3.4" fill="#111"/><circle cx="286.14" cy="180.56" r="1.2" fill="#111"/><circle cx="289.38" cy="181.87" r="1.2" fill="#111"/><circle cx="291.00" cy="183.17" r="1.2" fill="#111"/><rect x="218.10" y="187.93" width="35.32" height="6.4" fill="#a6a6a6"/><rect x="261.24" y="189.43" width="1.2" height="3.4" fill="#111"/><circle cx="243.21" cy="189.83" r="1.2" fill="#111"/><circle cx="258.60" cy="191.13" r="1.2" fill="#111"/><circle cx="256.98" cy="192.43" r="1.2" fill="#111"/><circle cx="215.1" cy="198.29" r="0.85" fill="#111"/><circle cx="215.1" cy="199.69" r="0.85" fill="#111"/><circle cx="215.1" cy="201.09" r="0.85" fill="#111"/><circle cx="215.1" cy="202.49" r="0.85" fill="#111"/><rect x="218.10" y="206.46" width="41.96" height="6.4" fill="#a6a6a6"/><rect x="270.96" y="207.96" width="1.2" height="3.4" fill="#111"/><circle cx="248.88" cy="208.36" r="1.2" fill="#111"/><circle cx="258.60" cy="209.66" r="1.2" fill="#111"/><circle cx="271.56" cy="210.96" r="1.2" fill="#111"/><rect x="218.10" y="215.73" width="41.31" height="6.4" fill="#a6a6a6"/><rect x="266.10" y="217.23" width="1.2" height="3.4" fill="#111"/><circle cx="250.50" cy="217.62" r="1.2" fill="#111"/><circle cx="258.60" cy="218.93" r="1.2" fill="#111"/><circle cx="266.70" cy="220.23" r="1.2" fill="#111"/><rect x="218.10" y="224.99" width="4.86" height="6.4" fill="#a6a6a6"/><rect x="224.79" y="226.49" width="1.2" height="3.4" fill="#111"/><circle cx="221.34" cy="226.89" r="1.2" fill="#111"/><circle cx="222.96" cy="228.19" r="1.2" fill="#111"/><circle cx="224.58" cy="229.49" r="1.2" fill="#111"/><rect x="218.10" y="234.25" width="36.13" height="6.4" fill="#a6a6a6"/><rect x="258.81" y="235.75" width="1.2" height="3.4" fill="#111"/><circle cx="250.50" cy="236.15" r="1.2" fill="#111"/><circle cx="255.36" cy="237.45" r="1.2" fill="#111"/><circle cx="256.98" cy="238.75" r="1.2" fill="#111"/><rect x="218.10" y="243.52" width="29.81" height="6.4" fill="#a6a6a6"/><rect x="249.09" y="245.02" width="1.2" height="3.4" fill="#111"/><circle cx="247.26" cy="245.42" r="1.2" fill="#111"/><circle cx="248.88" cy="246.72" r="1.2" fill="#111"/><circle cx="248.88" cy="248.02" r="1.2" fill="#111"/><circle cx="215.1" cy="253.89" r="0.85" fill="#111"/><circle cx="215.1" cy="255.29" r="0.85" fill="#111"/><circle cx="215.1" cy="256.69" r="0.85" fill="#111"/><circle cx="215.1" cy="258.09" r="0.85" fill="#111"/><circle cx="215.1" cy="263.15" r="0.85" fill="#111"/><circle cx="215.1" cy="264.55" r="0.85" fill="#111"/><circle cx="215.1" cy="265.95" r="0.85" fill="#111"/><circle cx="215.1" cy="267.35" r="0.85" fill="#111"/><circle cx="215.1" cy="272.41" r="0.85" fill="#111"/><circle cx="215.1" cy="273.81" r="0.85" fill="#111"/><circle cx="215.1" cy="275.21" r="0.85" fill="#111"/><circle cx="215.1" cy="276.61" r="0.85" fill="#111"/><circle cx="215.1" cy="281.68" r="0.85" fill="#111"/><circle cx="215.1" cy="283.08" r="0.85" fill="#111"/><circle cx="215.1" cy="284.48" r="0.85" fill="#111"/><circle cx="215.1" cy="285.88" r="0.85" fill="#111"/><circle cx="215.1" cy="290.94" r="0.85" fill="#111"/><circle cx="215.1" cy="292.34" r="0.85" fill="#111"/><circle cx="215.1" cy="293.75" r="0.85" fill="#111"/><circle cx="215.1" cy="295.14" r="0.85" fill="#111"/><circle cx="215.1" cy="300.21" r="0.85" fill="#111"/><circle cx="215.1" cy="301.61" r="0.85" fill="#111"/><circle cx="215.1" cy="303.01" r="0.85" fill="#111"/><circle cx="215.1" cy="304.41" r="0.85" fill="#111"/><circle cx="215.1" cy="309.48" r="0.85" fill="#111"/><circle cx="215.1" cy="310.88" r="0.85" fill="#111"/><circle cx="215.1" cy="312.28" r="0.85" fill="#111"/><circle cx="215.1" cy="313.68" r="0.85" fill="#111"/><circle cx="215.1" cy="318.74" r="0.85" fill="#111"/><circle cx="215.1" cy="320.14" r="0.85" fill="#111"/><circle cx="215.1" cy="321.54" r="0.85" fill="#111"/><circle cx="215.1" cy="322.94" r="0.85" fill="#111"/><circle cx="215.1" cy="328.00" r="0.85" fill="#111"/><circle cx="215.1" cy="329.40" r="0.85" fill="#111"/><circle cx="215.1" cy="330.81" r="0.85" fill="#111"/><circle cx="215.1" cy="332.20" r="0.85" fill="#111"/><circle cx="215.1" cy="337.27" r="0.85" fill="#111"/><circle cx="215.1" cy="338.67" r="0.85" fill="#111"/><circle cx="215.1" cy="340.07" r="0.85" fill="#111"/><circle cx="215.1" cy="341.47" r="0.85" fill="#111"/><rect x="218.10" y="345.44" width="45.20" height="6.4" fill="#a6a6a6"/><rect x="265.29" y="346.94" width="1.2" height="3.4" fill="#111"/><circle cx="261.84" cy="347.33" r="1.2" fill="#111"/><circle cx="263.46" cy="348.63" r="1.2" fill="#111"/><circle cx="265.08" cy="349.94" r="1.2" fill="#111"/><rect x="218.10" y="354.70" width="23.00" height="6.4" fill="#a6a6a6"/><rect x="242.61" y="356.20" width="1.2" height="3.4" fill="#111"/><circle cx="239.16" cy="356.60" r="1.2" fill="#111"/><circle cx="240.78" cy="357.90" r="1.2" fill="#111"/><circle cx="242.40" cy="359.20" r="1.2" fill="#111"/><rect x="218.10" y="363.96" width="62.05" height="6.4" fill="#a6a6a6"/><rect x="283.92" y="365.46" width="1.2" height="3.4" fill="#111"/><circle cx="278.04" cy="365.86" r="1.2" fill="#111"/><circle cx="279.66" cy="367.16" r="1.2" fill="#111"/><circle cx="282.90" cy="368.46" r="1.2" fill="#111"/><rect x="218.10" y="373.23" width="59.29" height="6.4" fill="#a6a6a6"/><rect x="279.06" y="374.73" width="1.2" height="3.4" fill="#111"/><circle cx="276.42" cy="375.13" r="1.2" fill="#111"/><circle cx="278.04" cy="376.43" r="1.2" fill="#111"/><circle cx="278.85" cy="377.73" r="1.2" fill="#111"/><rect x="218.10" y="382.50" width="68.20" height="6.4" fill="#a6a6a6"/><rect x="292.83" y="384.00" width="1.2" height="3.4" fill="#111"/><circle cx="279.66" cy="384.40" r="1.2" fill="#111"/><circle cx="287.76" cy="385.70" r="1.2" fill="#111"/><circle cx="292.62" cy="387.00" r="1.2" fill="#111"/><rect x="218.10" y="391.76" width="71.44" height="6.4" fill="#a6a6a6"/><rect x="291.21" y="393.26" width="1.2" height="3.4" fill="#111"/><circle cx="287.76" cy="393.66" r="1.2" fill="#111"/><circle cx="289.38" cy="394.96" r="1.2" fill="#111"/><circle cx="291.00" cy="396.26" r="1.2" fill="#111"/><rect x="218.10" y="401.03" width="124.74" height="6.4" fill="#a6a6a6"/><rect x="353.58" y="402.53" width="1.2" height="3.4" fill="#111"/><circle cx="331.50" cy="402.93" r="1.2" fill="#111"/><circle cx="334.74" cy="404.23" r="1.2" fill="#111"/><circle cx="354.18" cy="405.53" r="1.2" fill="#111"/><rect x="218.10" y="410.29" width="23.81" height="6.4" fill="#a6a6a6"/><rect x="245.04" y="411.79" width="1.2" height="3.4" fill="#111"/><circle cx="239.16" cy="412.19" r="1.2" fill="#111"/><circle cx="242.40" cy="413.49" r="1.2" fill="#111"/><circle cx="245.64" cy="414.79" r="1.2" fill="#111"/><rect x="216.48" y="419.56" width="1.62" height="6.4" fill="#a6a6a6"/><rect x="217.50" y="421.06" width="1.2" height="3.4" fill="#111"/><circle cx="215.67" cy="421.45" r="1.2" fill="#111"/><circle cx="216.48" cy="422.75" r="1.2" fill="#111"/><circle cx="217.29" cy="424.06" r="1.2" fill="#111"/><rect x="218.10" y="428.82" width="18.95" height="6.4" fill="#a6a6a6"/><rect x="240.99" y="430.32" width="1.2" height="3.4" fill="#111"/><circle cx="234.30" cy="430.72" r="1.2" fill="#111"/><circle cx="237.54" cy="432.02" r="1.2" fill="#111"/><circle cx="240.78" cy="433.32" r="1.2" fill="#111"/><rect x="218.10" y="438.08" width="106.92" height="6.4" fill="#a6a6a6"/><rect x="336.57" y="439.58" width="1.2" height="3.4" fill="#111"/><circle cx="315.30" cy="439.98" r="1.2" fill="#111"/><circle cx="320.16" cy="441.28" r="1.2" fill="#111"/><circle cx="336.36" cy="442.58" r="1.2" fill="#111"/><rect x="218.10" y="447.35" width="162.00" height="6.4" fill="#a6a6a6"/><rect x="385.17" y="448.85" width="1.2" height="3.4" fill="#111"/><circle cx="376.86" cy="449.25" r="1.2" fill="#111"/><circle cx="380.10" cy="450.55" r="1.2" fill="#111"/><circle cx="384.96" cy="451.85" r="1.2" fill="#111"/>
<path d="M286.14,181.87 H295.86 M243.21,191.13 H261.84 M248.88,209.66 H271.56 M250.50,218.93 H266.70 M221.34,228.19 H225.39 M250.50,237.45 H259.41 M247.26,246.72 H249.69 M261.84,348.63 H265.89 M239.16,357.90 H243.21 M278.04,367.16 H284.52 M276.42,376.43 H279.66 M279.66,385.70 H293.43 M287.76,394.96 H291.81 M331.50,404.23 H354.18 M239.16,413.49 H245.64 M215.67,422.75 H218.10 M234.30,432.02 H241.59 M315.30,441.28 H337.17 M376.86,450.55 H385.77" stroke="#111" stroke-width="0.8" fill="none"/>
<path d="M209.3,165.6 V458.2 M200.9,172.60 H209.3 M200.9,181.87 H209.3 M200.9,191.13 H209.3 M200.9,200.39 H209.3 M200.9,209.66 H209.3 M200.9,218.93 H209.3 M200.9,228.19 H209.3 M200.9,237.45 H209.3 M200.9,246.72 H209.3 M200.9,255.99 H209.3 M200.9,265.25 H209.3 M200.9,274.51 H209.3 M200.9,283.78 H209.3 M200.9,293.05 H209.3 M200.9,302.31 H209.3 M200.9,311.58 H209.3 M200.9,320.84 H209.3 M200.9,330.11 H209.3 M200.9,339.37 H209.3 M200.9,348.63 H209.3 M200.9,357.90 H209.3 M200.9,367.16 H209.3 M200.9,376.43 H209.3 M200.9,385.70 H209.3 M200.9,394.96 H209.3 M200.9,404.23 H209.3 M200.9,413.49 H209.3 M200.9,422.75 H209.3 M200.9,432.02 H209.3 M200.9,441.28 H209.3 M200.9,450.55 H209.3" stroke="#000" stroke-width="1.2" fill="none"/>
<path d="M208.7,458.2 H390 M250.50,458.2 V464.7 M282.90,458.2 V464.7 M315.30,458.2 V464.7 M347.70,458.2 V464.7 M380.10,458.2 V464.7" stroke="#000" stroke-width="1.9" fill="none"/>
<path d="M218.1,165.6 V464.7" stroke="#000" stroke-width="1.9"/>
<text x="215.02" y="476.70" font-size="11.5" textLength="6.67" lengthAdjust="spacingAndGlyphs"  stroke="#000" stroke-width="0.18">0</text>
<text x="243.31" y="477.60" font-size="11.5" textLength="13.20" lengthAdjust="spacingAndGlyphs"  stroke="#000" stroke-width="0.18">20</text>
<text x="276.10" y="476.70" font-size="11.5" textLength="13.20" lengthAdjust="spacingAndGlyphs"  stroke="#000" stroke-width="0.18">40</text>
<text x="308.36" y="476.70" font-size="11.5" textLength="14.18" lengthAdjust="spacingAndGlyphs"  stroke="#000" stroke-width="0.18">60</text>
<text x="341.73" y="476.70" font-size="11.5" textLength="14.11" lengthAdjust="spacingAndGlyphs"  stroke="#000" stroke-width="0.18">80</text>
<text x="370.04" y="476.70" font-size="11.5"  stroke="#000" stroke-width="0.18">100</text>
<text x="241.16" y="493.80" font-size="12.4" textLength="118.65" lengthAdjust="spacingAndGlyphs"  stroke="#000" stroke-width="0.18">RBCs hemolysis (%)</text>
<text x="200.80" y="451.30" font-size="9.0" text-anchor="end" transform="rotate(-48 200.80 451.30)" stroke="#000" stroke-width="0.18">TritonX-100</text>
<rect x="469.8" y="224.60" width="16" height="6.2" fill="#e68e8e"/>
<text x="488.47" y="231.10" font-size="10.5" textLength="120.44" lengthAdjust="spacingAndGlyphs"  stroke="#000" stroke-width="0.18">Invalid (MIC&gt;P) in round 1</text>
<rect x="469.8" y="238.63" width="16" height="6.2" fill="#f1d0d4"/>
<text x="489.05" y="245.40" font-size="10.5"  stroke="#000" stroke-width="0.18">Valid (MIC&lt;P) in round 1</text>
<rect x="469.8" y="252.66" width="16" height="6.2" fill="#b6cde8"/>
<text x="488.46" y="259.20" font-size="10.5"  stroke="#000" stroke-width="0.18">Invalid (MIC&gt;P) in round 2</text>
<rect x="469.8" y="266.69" width="16" height="6.2" fill="#6898cf"/>
<text x="489.05" y="273.20" font-size="10.5"  stroke="#000" stroke-width="0.18">Valid (MIC&lt;P) in round 2</text>
<text x="435.59" y="435.00" font-size="11.0" textLength="7.14" lengthAdjust="spacingAndGlyphs"  stroke="#000" stroke-width="0.18">0</text>
<text x="430.63" y="401.06" font-size="11.0" textLength="13.18" lengthAdjust="spacingAndGlyphs"  stroke="#000" stroke-width="0.18">50</text>
<text x="425.41" y="367.12" font-size="11.0" textLength="19.70" lengthAdjust="spacingAndGlyphs"  stroke="#000" stroke-width="0.18">100</text>
<text x="425.41" y="333.18" font-size="11.0" textLength="19.70" lengthAdjust="spacingAndGlyphs"  stroke="#000" stroke-width="0.18">150</text>
<text x="425.51" y="299.24" font-size="11.0" textLength="19.70" lengthAdjust="spacingAndGlyphs"  stroke="#000" stroke-width="0.18">200</text>
<text x="425.51" y="265.30" font-size="11.0" textLength="19.70" lengthAdjust="spacingAndGlyphs"  stroke="#000" stroke-width="0.18">250</text>
<rect x="467.50" y="374.65" width="21.4" height="56.75" fill="#f1d0d4"/>
<rect x="467.50" y="363.52" width="21.4" height="11.13" fill="#e68e8e"/>
<rect x="467.50" y="301.48" width="21.4" height="62.04" fill="#6898cf"/>
<rect x="467.50" y="295.64" width="21.4" height="5.84" fill="#b6cde8"/>
<rect x="499.25" y="382.80" width="21.4" height="48.60" fill="#f1d0d4"/>
<rect x="499.25" y="363.52" width="21.4" height="19.28" fill="#e68e8e"/>
<rect x="499.25" y="295.64" width="21.4" height="67.88" fill="#6898cf"/>
<rect x="531.00" y="374.79" width="21.4" height="56.61" fill="#f1d0d4"/>
<rect x="531.00" y="363.52" width="21.4" height="11.27" fill="#e68e8e"/>
<rect x="531.00" y="301.21" width="21.4" height="62.31" fill="#6898cf"/>
<rect x="531.00" y="295.64" width="21.4" height="5.57" fill="#b6cde8"/>
<rect x="562.75" y="378.73" width="21.4" height="52.67" fill="#f1d0d4"/>
<rect x="562.75" y="363.52" width="21.4" height="15.21" fill="#e68e8e"/>
<rect x="562.75" y="295.64" width="21.4" height="67.88" fill="#6898cf"/>
<rect x="594.50" y="370.99" width="21.4" height="60.41" fill="#f1d0d4"/>
<rect x="594.50" y="363.52" width="21.4" height="7.47" fill="#e68e8e"/>
<rect x="594.50" y="295.64" width="21.4" height="67.88" fill="#6898cf"/>
<path d="M455.8,261.0 V432.3 M449.0,431.4 H627 M449.0,431.40 H455.8 M449.0,397.46 H455.8 M449.0,363.52 H455.8 M449.0,329.58 H455.8 M449.0,295.64 H455.8 M449.0,261.70 H455.8 M478.20,431.4 V438.4 M509.95,431.4 V438.4 M541.70,431.4 V438.4 M573.45,431.4 V438.4 M605.20,431.4 V438.4" stroke="#000" stroke-width="1.7" fill="none"/>
<text x="417.8" y="381.8" font-size="12.2" transform="rotate(-90 417.8 381.8)" textLength="89" lengthAdjust="spacingAndGlyphs" stroke="#000" stroke-width="0.18">Percentage (%)</text>
<text x="479.80" y="449.50" font-size="11.3" text-anchor="end" font-style="italic" transform="rotate(-43.6 479.80 449.50)" stroke="#000" stroke-width="0.18">E. coli</text>
<text x="511.55" y="449.50" font-size="11.3" text-anchor="end" font-style="italic" transform="rotate(-43.6 511.55 449.50)" stroke="#000" stroke-width="0.18">K. pneumoniae</text>
<text x="543.30" y="449.50" font-size="11.3" text-anchor="end" font-style="italic" transform="rotate(-43.6 543.30 449.50)" stroke="#000" stroke-width="0.18">P. aeruginosa</text>
<text x="575.05" y="449.50" font-size="11.3" text-anchor="end" font-style="italic" transform="rotate(-43.6 575.05 449.50)" stroke="#000" stroke-width="0.18">S.aureus</text>
<text x="606.80" y="449.50" font-size="11.3" text-anchor="end" font-style="italic" transform="rotate(-43.6 606.80 449.50)" stroke="#000" stroke-width="0.18">MRSA</text>
</svg>
</body></html>
